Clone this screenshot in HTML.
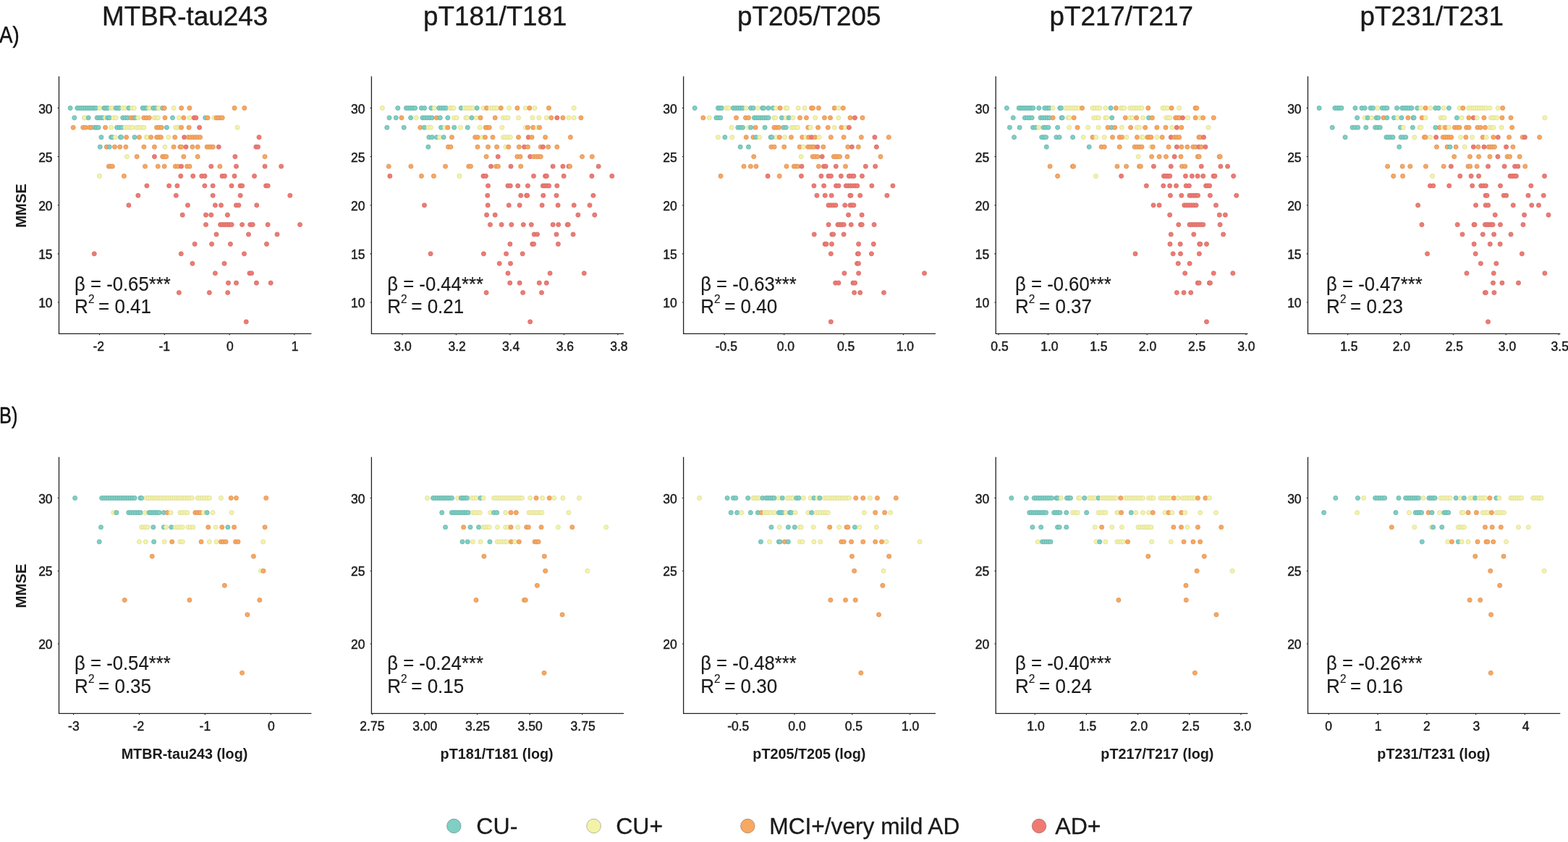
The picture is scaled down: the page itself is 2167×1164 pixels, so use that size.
<!DOCTYPE html><html><head><meta charset="utf-8"><title>MMSE vs tau biomarkers</title><style>html,body{margin:0;padding:0;background:#fff;}svg{display:block;}</style></head><body><svg width="2167" height="1164" viewBox="0 0 2167 1164">
<rect width="2167" height="1164" fill="#fff"/>
<style>.t{fill:#7fcfc4;stroke:#64b1a7;stroke-width:0.8}.y{fill:#f3f3a8;stroke:#dddc9c;stroke-width:0.8}.o{fill:#f8a860;stroke:#dc9054;stroke-width:0.8}.r{fill:#f07a72;stroke:#d06c66;stroke-width:0.8}</style>
<g><circle cx="97.15" cy="149.4" r="3.05" class="t"/><circle cx="106.73" cy="149.4" r="3.05" class="t"/><circle cx="109.62" cy="149.4" r="3.05" class="t"/><circle cx="112.52" cy="149.4" r="3.05" class="t"/><circle cx="115.42" cy="149.4" r="3.05" class="t"/><circle cx="118.31" cy="149.4" r="3.05" class="t"/><circle cx="121.21" cy="149.4" r="3.05" class="t"/><circle cx="124.11" cy="149.4" r="3.05" class="t"/><circle cx="127.01" cy="149.4" r="3.05" class="t"/><circle cx="129.9" cy="149.4" r="3.05" class="t"/><circle cx="132.8" cy="149.4" r="3.05" class="t"/><circle cx="137.93" cy="149.4" r="3.05" class="y"/><circle cx="143.88" cy="149.4" r="3.05" class="t"/><circle cx="146.41" cy="149.4" r="3.05" class="t"/><circle cx="148.95" cy="149.4" r="3.05" class="t"/><circle cx="153.57" cy="149.4" r="3.05" class="y"/><circle cx="155.41" cy="149.4" r="3.05" class="y"/><circle cx="160.03" cy="149.4" r="3.05" class="t"/><circle cx="162.56" cy="149.4" r="3.05" class="t"/><circle cx="165.1" cy="149.4" r="3.05" class="t"/><circle cx="169.72" cy="149.4" r="3.05" class="y"/><circle cx="173.18" cy="149.4" r="3.05" class="y"/><circle cx="177.91" cy="149.4" r="3.05" class="t"/><circle cx="182.64" cy="149.4" r="3.05" class="y"/><circle cx="185.29" cy="149.4" r="3.05" class="y"/><circle cx="197.17" cy="149.4" r="3.05" class="t"/><circle cx="199.71" cy="149.4" r="3.05" class="t"/><circle cx="202.25" cy="149.4" r="3.05" class="t"/><circle cx="206.06" cy="149.4" r="3.05" class="y"/><circle cx="207.1" cy="149.4" r="3.05" class="y"/><circle cx="211.71" cy="149.4" r="3.05" class="t"/><circle cx="215.17" cy="149.4" r="3.05" class="t"/><circle cx="218.98" cy="149.4" r="3.05" class="y"/><circle cx="220.02" cy="149.4" r="3.05" class="y"/><circle cx="224.75" cy="149.4" r="3.05" class="t"/><circle cx="227.17" cy="149.4" r="3.05" class="o"/><circle cx="240.09" cy="149.4" r="3.05" class="y"/><circle cx="250.59" cy="149.4" r="3.05" class="o"/><circle cx="261.9" cy="149.4" r="3.05" class="o"/><circle cx="324.08" cy="149.4" r="3.05" class="o"/><circle cx="337.81" cy="149.4" r="3.05" class="o"/><circle cx="102.8" cy="162.83" r="3.05" class="t"/><circle cx="116.42" cy="162.83" r="3.05" class="y"/><circle cx="117.46" cy="162.83" r="3.05" class="y"/><circle cx="122.19" cy="162.83" r="3.05" class="t"/><circle cx="134.18" cy="162.83" r="3.05" class="t"/><circle cx="136.95" cy="162.83" r="3.05" class="t"/><circle cx="139.72" cy="162.83" r="3.05" class="t"/><circle cx="142.49" cy="162.83" r="3.05" class="t"/><circle cx="145.61" cy="162.83" r="3.05" class="y"/><circle cx="148.72" cy="162.83" r="3.05" class="t"/><circle cx="151.37" cy="162.83" r="3.05" class="t"/><circle cx="156.8" cy="162.83" r="3.05" class="y"/><circle cx="160.26" cy="162.83" r="3.05" class="y"/><circle cx="169.72" cy="162.83" r="3.05" class="t"/><circle cx="173.06" cy="162.83" r="3.05" class="t"/><circle cx="176.41" cy="162.83" r="3.05" class="t"/><circle cx="181.02" cy="162.83" r="3.05" class="o"/><circle cx="184.48" cy="162.83" r="3.05" class="o"/><circle cx="186.79" cy="162.83" r="3.05" class="t"/><circle cx="190.83" cy="162.83" r="3.05" class="y"/><circle cx="198.79" cy="162.83" r="3.05" class="o"/><circle cx="202.25" cy="162.83" r="3.05" class="o"/><circle cx="206.17" cy="162.83" r="3.05" class="o"/><circle cx="213.33" cy="162.83" r="3.05" class="y"/><circle cx="215.86" cy="162.83" r="3.05" class="y"/><circle cx="218.4" cy="162.83" r="3.05" class="y"/><circle cx="227.98" cy="162.83" r="3.05" class="o"/><circle cx="238.48" cy="162.83" r="3.05" class="t"/><circle cx="247.36" cy="162.83" r="3.05" class="y"/><circle cx="253.82" cy="162.83" r="3.05" class="o"/><circle cx="261.9" cy="162.83" r="3.05" class="y"/><circle cx="268.24" cy="162.83" r="3.05" class="r"/><circle cx="270.89" cy="162.83" r="3.05" class="r"/><circle cx="283.7" cy="162.83" r="3.05" class="t"/><circle cx="286.93" cy="162.83" r="3.05" class="o"/><circle cx="295.81" cy="162.83" r="3.05" class="y"/><circle cx="298.93" cy="162.83" r="3.05" class="o"/><circle cx="301.7" cy="162.83" r="3.05" class="o"/><circle cx="304.47" cy="162.83" r="3.05" class="o"/><circle cx="307.23" cy="162.83" r="3.05" class="o"/><circle cx="101.19" cy="176.26" r="3.05" class="o"/><circle cx="114.8" cy="176.26" r="3.05" class="o"/><circle cx="118.26" cy="176.26" r="3.05" class="o"/><circle cx="123.69" cy="176.26" r="3.05" class="o"/><circle cx="126.34" cy="176.26" r="3.05" class="o"/><circle cx="130.95" cy="176.26" r="3.05" class="t"/><circle cx="133.49" cy="176.26" r="3.05" class="t"/><circle cx="136.03" cy="176.26" r="3.05" class="t"/><circle cx="145.61" cy="176.26" r="3.05" class="o"/><circle cx="153.68" cy="176.26" r="3.05" class="y"/><circle cx="161.64" cy="176.26" r="3.05" class="t"/><circle cx="164.99" cy="176.26" r="3.05" class="t"/><circle cx="168.33" cy="176.26" r="3.05" class="t"/><circle cx="172.95" cy="176.26" r="3.05" class="y"/><circle cx="176.25" cy="176.26" r="3.05" class="y"/><circle cx="179.56" cy="176.26" r="3.05" class="y"/><circle cx="182.87" cy="176.26" r="3.05" class="y"/><circle cx="189.1" cy="176.26" r="3.05" class="y"/><circle cx="192.41" cy="176.26" r="3.05" class="y"/><circle cx="195.71" cy="176.26" r="3.05" class="y"/><circle cx="199.02" cy="176.26" r="3.05" class="y"/><circle cx="216.56" cy="176.26" r="3.05" class="o"/><circle cx="219.9" cy="176.26" r="3.05" class="o"/><circle cx="223.25" cy="176.26" r="3.05" class="o"/><circle cx="230.4" cy="176.26" r="3.05" class="t"/><circle cx="242.4" cy="176.26" r="3.05" class="y"/><circle cx="244.94" cy="176.26" r="3.05" class="y"/><circle cx="247.47" cy="176.26" r="3.05" class="y"/><circle cx="250.59" cy="176.26" r="3.05" class="o"/><circle cx="261.09" cy="176.26" r="3.05" class="o"/><circle cx="275.62" cy="176.26" r="3.05" class="r"/><circle cx="328.12" cy="176.26" r="3.05" class="y"/><circle cx="139.95" cy="189.69" r="3.05" class="t"/><circle cx="153.57" cy="189.69" r="3.05" class="t"/><circle cx="155.41" cy="189.69" r="3.05" class="t"/><circle cx="159.33" cy="189.69" r="3.05" class="y"/><circle cx="166.49" cy="189.69" r="3.05" class="t"/><circle cx="167.52" cy="189.69" r="3.05" class="t"/><circle cx="174.68" cy="189.69" r="3.05" class="o"/><circle cx="185.98" cy="189.69" r="3.05" class="t"/><circle cx="192.44" cy="189.69" r="3.05" class="o"/><circle cx="202.02" cy="189.69" r="3.05" class="y"/><circle cx="203.87" cy="189.69" r="3.05" class="y"/><circle cx="208.6" cy="189.69" r="3.05" class="o"/><circle cx="216.56" cy="189.69" r="3.05" class="o"/><circle cx="219.5" cy="189.69" r="3.05" class="o"/><circle cx="222.44" cy="189.69" r="3.05" class="o"/><circle cx="232.82" cy="189.69" r="3.05" class="y"/><circle cx="241.71" cy="189.69" r="3.05" class="o"/><circle cx="254.63" cy="189.69" r="3.05" class="r"/><circle cx="260.16" cy="189.69" r="3.05" class="o"/><circle cx="263.44" cy="189.69" r="3.05" class="o"/><circle cx="266.72" cy="189.69" r="3.05" class="o"/><circle cx="269.99" cy="189.69" r="3.05" class="o"/><circle cx="273.27" cy="189.69" r="3.05" class="o"/><circle cx="276.55" cy="189.69" r="3.05" class="o"/><circle cx="358" cy="189.69" r="3.05" class="r"/><circle cx="138.34" cy="203.12" r="3.05" class="t"/><circle cx="147.22" cy="203.12" r="3.05" class="o"/><circle cx="151.26" cy="203.12" r="3.05" class="t"/><circle cx="158.53" cy="203.12" r="3.05" class="o"/><circle cx="165.79" cy="203.12" r="3.05" class="o"/><circle cx="173.87" cy="203.12" r="3.05" class="o"/><circle cx="198.9" cy="203.12" r="3.05" class="o"/><circle cx="213.44" cy="203.12" r="3.05" class="o"/><circle cx="227.98" cy="203.12" r="3.05" class="y"/><circle cx="240.09" cy="203.12" r="3.05" class="o"/><circle cx="248.86" cy="203.12" r="3.05" class="o"/><circle cx="250.7" cy="203.12" r="3.05" class="o"/><circle cx="257.05" cy="203.12" r="3.05" class="r"/><circle cx="265.93" cy="203.12" r="3.05" class="o"/><circle cx="273.2" cy="203.12" r="3.05" class="o"/><circle cx="286.01" cy="203.12" r="3.05" class="o"/><circle cx="288.78" cy="203.12" r="3.05" class="o"/><circle cx="291.54" cy="203.12" r="3.05" class="o"/><circle cx="294.31" cy="203.12" r="3.05" class="o"/><circle cx="302.27" cy="203.12" r="3.05" class="r"/><circle cx="353.84" cy="203.12" r="3.05" class="r"/><circle cx="356.5" cy="203.12" r="3.05" class="r"/><circle cx="175.49" cy="216.55" r="3.05" class="y"/><circle cx="189.21" cy="216.55" r="3.05" class="o"/><circle cx="213.44" cy="216.55" r="3.05" class="r"/><circle cx="224.63" cy="216.55" r="3.05" class="o"/><circle cx="227.17" cy="216.55" r="3.05" class="o"/><circle cx="229.71" cy="216.55" r="3.05" class="o"/><circle cx="253.82" cy="216.55" r="3.05" class="o"/><circle cx="273.2" cy="216.55" r="3.05" class="o"/><circle cx="324.89" cy="216.55" r="3.05" class="r"/><circle cx="366.07" cy="216.55" r="3.05" class="o"/><circle cx="150.34" cy="229.98" r="3.05" class="o"/><circle cx="152.87" cy="229.98" r="3.05" class="o"/><circle cx="155.41" cy="229.98" r="3.05" class="o"/><circle cx="200.52" cy="229.98" r="3.05" class="o"/><circle cx="218.29" cy="229.98" r="3.05" class="o"/><circle cx="227.17" cy="229.98" r="3.05" class="o"/><circle cx="242.4" cy="229.98" r="3.05" class="o"/><circle cx="245.86" cy="229.98" r="3.05" class="o"/><circle cx="250.59" cy="229.98" r="3.05" class="r"/><circle cx="258.55" cy="229.98" r="3.05" class="o"/><circle cx="262.01" cy="229.98" r="3.05" class="o"/><circle cx="291.78" cy="229.98" r="3.05" class="r"/><circle cx="303.89" cy="229.98" r="3.05" class="o"/><circle cx="326.5" cy="229.98" r="3.05" class="r"/><circle cx="366.07" cy="229.98" r="3.05" class="r"/><circle cx="388.68" cy="229.98" r="3.05" class="r"/><circle cx="137.53" cy="243.41" r="3.05" class="y"/><circle cx="171.45" cy="243.41" r="3.05" class="o"/><circle cx="249.78" cy="243.41" r="3.05" class="r"/><circle cx="266.74" cy="243.41" r="3.05" class="r"/><circle cx="278.74" cy="243.41" r="3.05" class="r"/><circle cx="283.01" cy="243.41" r="3.05" class="r"/><circle cx="307" cy="243.41" r="3.05" class="r"/><circle cx="310.46" cy="243.41" r="3.05" class="r"/><circle cx="324.08" cy="243.41" r="3.05" class="r"/><circle cx="351.54" cy="243.41" r="3.05" class="r"/><circle cx="202.94" cy="256.84" r="3.05" class="r"/><circle cx="233.63" cy="256.84" r="3.05" class="r"/><circle cx="244.94" cy="256.84" r="3.05" class="r"/><circle cx="282.89" cy="256.84" r="3.05" class="r"/><circle cx="294.2" cy="256.84" r="3.05" class="r"/><circle cx="320.04" cy="256.84" r="3.05" class="r"/><circle cx="332.04" cy="256.84" r="3.05" class="r"/><circle cx="334.69" cy="256.84" r="3.05" class="r"/><circle cx="367.57" cy="256.84" r="3.05" class="r"/><circle cx="370.22" cy="256.84" r="3.05" class="r"/><circle cx="190.83" cy="270.27" r="3.05" class="r"/><circle cx="243.32" cy="270.27" r="3.05" class="r"/><circle cx="294.2" cy="270.27" r="3.05" class="r"/><circle cx="332.15" cy="270.27" r="3.05" class="r"/><circle cx="400.8" cy="270.27" r="3.05" class="r"/><circle cx="177.91" cy="283.7" r="3.05" class="r"/><circle cx="259.47" cy="283.7" r="3.05" class="r"/><circle cx="297.43" cy="283.7" r="3.05" class="r"/><circle cx="305.5" cy="283.7" r="3.05" class="r"/><circle cx="326.39" cy="283.7" r="3.05" class="r"/><circle cx="329.85" cy="283.7" r="3.05" class="r"/><circle cx="354.77" cy="283.7" r="3.05" class="r"/><circle cx="252.2" cy="297.13" r="3.05" class="r"/><circle cx="284.51" cy="297.13" r="3.05" class="r"/><circle cx="291.78" cy="297.13" r="3.05" class="r"/><circle cx="314.39" cy="297.13" r="3.05" class="r"/><circle cx="284.51" cy="310.56" r="3.05" class="r"/><circle cx="304.58" cy="310.56" r="3.05" class="r"/><circle cx="307.7" cy="310.56" r="3.05" class="r"/><circle cx="310.81" cy="310.56" r="3.05" class="r"/><circle cx="313.93" cy="310.56" r="3.05" class="r"/><circle cx="317.04" cy="310.56" r="3.05" class="r"/><circle cx="320.16" cy="310.56" r="3.05" class="r"/><circle cx="334.58" cy="310.56" r="3.05" class="r"/><circle cx="345.77" cy="310.56" r="3.05" class="r"/><circle cx="349.23" cy="310.56" r="3.05" class="r"/><circle cx="370.11" cy="310.56" r="3.05" class="r"/><circle cx="414.53" cy="310.56" r="3.05" class="r"/><circle cx="299.04" cy="323.99" r="3.05" class="r"/><circle cx="343.46" cy="323.99" r="3.05" class="r"/><circle cx="383.03" cy="323.99" r="3.05" class="r"/><circle cx="269.16" cy="337.42" r="3.05" class="r"/><circle cx="292.58" cy="337.42" r="3.05" class="r"/><circle cx="318.43" cy="337.42" r="3.05" class="r"/><circle cx="368.49" cy="337.42" r="3.05" class="r"/><circle cx="130.26" cy="350.85" r="3.05" class="r"/><circle cx="250.27" cy="350.85" r="3.05" class="r"/><circle cx="337.48" cy="350.85" r="3.05" class="r"/><circle cx="265.93" cy="364.28" r="3.05" class="r"/><circle cx="310.03" cy="364.28" r="3.05" class="r"/><circle cx="297.43" cy="377.71" r="3.05" class="r"/><circle cx="344.96" cy="377.71" r="3.05" class="r"/><circle cx="347.61" cy="377.71" r="3.05" class="r"/><circle cx="315.52" cy="391.14" r="3.05" class="r"/><circle cx="326.5" cy="391.14" r="3.05" class="r"/><circle cx="354.44" cy="391.14" r="3.05" class="r"/><circle cx="374.15" cy="391.14" r="3.05" class="r"/><circle cx="247.36" cy="404.57" r="3.05" class="r"/><circle cx="289.35" cy="404.57" r="3.05" class="r"/><circle cx="314.71" cy="404.57" r="3.05" class="r"/><circle cx="340.23" cy="444.86" r="3.05" class="r"/></g>
<path d="M81.5,105.5V461.4H430.4" fill="none" stroke="#222" stroke-width="1.3"/>
<path d="M137.56,461.4v1.8M227.33,461.4v1.8M317.1,461.4v1.8M406.87,461.4v1.8M81.5,149.4h-1.8M81.5,216.55h-1.8M81.5,283.7h-1.8M81.5,350.85h-1.8M81.5,418h-1.8" stroke="#222" stroke-width="1.1"/>
<g font-family="Liberation Sans, Arial, Helvetica, sans-serif" fill="#1a1a1a" stroke="#1a1a1a" stroke-width="0.45">
<text id="xtA1_-2" x="136.16" y="484.8" font-size="17.5" text-anchor="middle">-2</text>
<text id="xtA1_-1" x="227.33" y="484.8" font-size="17.5" text-anchor="middle">-1</text>
<text id="xtA1_0" x="317.9" y="484.8" font-size="17.5" text-anchor="middle">0</text>
<text id="xtA1_1" x="407.67" y="484.8" font-size="17.5" text-anchor="middle">1</text>
<text id="ytA1_30" x="72.6" y="156.6" font-size="17.5" text-anchor="end">30</text>
<text id="ytA1_25" x="72.6" y="223.75" font-size="17.5" text-anchor="end">25</text>
<text id="ytA1_20" x="72.6" y="290.9" font-size="17.5" text-anchor="end">20</text>
<text id="ytA1_15" x="72.6" y="358.05" font-size="17.5" text-anchor="end">15</text>
<text id="ytA1_10" x="72.6" y="425.2" font-size="17.5" text-anchor="end">10</text>
</g>
<g font-family="Liberation Sans, Arial, Helvetica, sans-serif" fill="#1a1a1a" stroke="#1a1a1a" stroke-width="0.15">
<text id="sbA1" x="103.1" y="401.6" font-size="26" textLength="132.6" lengthAdjust="spacingAndGlyphs" transform="matrix(1 0 0 1.075 0 -30.12)">β = -0.65***</text>
<text id="srA1" x="103.1" y="433.1" font-size="26" transform="matrix(1 0 0 1.075 0 -32.48)">R<tspan font-size="15.34" dy="-12.74">2</tspan><tspan dy="12.74" dx="-1.6"> = 0.41</tspan></text>
</g>
<g><circle cx="103.61" cy="688.5" r="3.05" class="t"/><circle cx="140.64" cy="688.5" r="3.05" class="t"/><circle cx="143.68" cy="688.5" r="3.05" class="t"/><circle cx="146.71" cy="688.5" r="3.05" class="t"/><circle cx="149.74" cy="688.5" r="3.05" class="t"/><circle cx="152.77" cy="688.5" r="3.05" class="t"/><circle cx="155.8" cy="688.5" r="3.05" class="t"/><circle cx="158.83" cy="688.5" r="3.05" class="t"/><circle cx="161.86" cy="688.5" r="3.05" class="t"/><circle cx="164.89" cy="688.5" r="3.05" class="t"/><circle cx="167.92" cy="688.5" r="3.05" class="t"/><circle cx="170.95" cy="688.5" r="3.05" class="t"/><circle cx="173.98" cy="688.5" r="3.05" class="t"/><circle cx="177.01" cy="688.5" r="3.05" class="t"/><circle cx="180.04" cy="688.5" r="3.05" class="t"/><circle cx="183.07" cy="688.5" r="3.05" class="t"/><circle cx="186.1" cy="688.5" r="3.05" class="t"/><circle cx="193.94" cy="688.5" r="3.05" class="t"/><circle cx="195.79" cy="688.5" r="3.05" class="t"/><circle cx="202.02" cy="688.5" r="3.05" class="y"/><circle cx="205.03" cy="688.5" r="3.05" class="y"/><circle cx="208.04" cy="688.5" r="3.05" class="y"/><circle cx="211.05" cy="688.5" r="3.05" class="y"/><circle cx="214.06" cy="688.5" r="3.05" class="y"/><circle cx="217.07" cy="688.5" r="3.05" class="y"/><circle cx="220.08" cy="688.5" r="3.05" class="y"/><circle cx="223.09" cy="688.5" r="3.05" class="y"/><circle cx="226.1" cy="688.5" r="3.05" class="y"/><circle cx="229.11" cy="688.5" r="3.05" class="y"/><circle cx="232.13" cy="688.5" r="3.05" class="y"/><circle cx="235.14" cy="688.5" r="3.05" class="y"/><circle cx="238.15" cy="688.5" r="3.05" class="y"/><circle cx="241.16" cy="688.5" r="3.05" class="y"/><circle cx="244.17" cy="688.5" r="3.05" class="y"/><circle cx="247.18" cy="688.5" r="3.05" class="y"/><circle cx="250.19" cy="688.5" r="3.05" class="y"/><circle cx="253.2" cy="688.5" r="3.05" class="y"/><circle cx="256.21" cy="688.5" r="3.05" class="y"/><circle cx="259.22" cy="688.5" r="3.05" class="y"/><circle cx="262.23" cy="688.5" r="3.05" class="y"/><circle cx="265.24" cy="688.5" r="3.05" class="y"/><circle cx="273.09" cy="688.5" r="3.05" class="y"/><circle cx="276.36" cy="688.5" r="3.05" class="y"/><circle cx="279.64" cy="688.5" r="3.05" class="y"/><circle cx="282.92" cy="688.5" r="3.05" class="y"/><circle cx="286.19" cy="688.5" r="3.05" class="y"/><circle cx="289.47" cy="688.5" r="3.05" class="y"/><circle cx="305.5" cy="688.5" r="3.05" class="y"/><circle cx="319.23" cy="688.5" r="3.05" class="o"/><circle cx="326.5" cy="688.5" r="3.05" class="o"/><circle cx="367.69" cy="688.5" r="3.05" class="o"/><circle cx="156.91" cy="708.65" r="3.05" class="y"/><circle cx="160.95" cy="708.65" r="3.05" class="t"/><circle cx="177.79" cy="708.65" r="3.05" class="t"/><circle cx="181.07" cy="708.65" r="3.05" class="t"/><circle cx="184.35" cy="708.65" r="3.05" class="t"/><circle cx="187.62" cy="708.65" r="3.05" class="t"/><circle cx="190.9" cy="708.65" r="3.05" class="t"/><circle cx="194.17" cy="708.65" r="3.05" class="t"/><circle cx="200.52" cy="708.65" r="3.05" class="y"/><circle cx="206.06" cy="708.65" r="3.05" class="t"/><circle cx="208.85" cy="708.65" r="3.05" class="t"/><circle cx="211.64" cy="708.65" r="3.05" class="t"/><circle cx="214.43" cy="708.65" r="3.05" class="t"/><circle cx="217.23" cy="708.65" r="3.05" class="t"/><circle cx="220.02" cy="708.65" r="3.05" class="t"/><circle cx="226.36" cy="708.65" r="3.05" class="t"/><circle cx="231.21" cy="708.65" r="3.05" class="o"/><circle cx="236.05" cy="708.65" r="3.05" class="y"/><circle cx="248.86" cy="708.65" r="3.05" class="y"/><circle cx="252.17" cy="708.65" r="3.05" class="y"/><circle cx="255.47" cy="708.65" r="3.05" class="y"/><circle cx="258.78" cy="708.65" r="3.05" class="y"/><circle cx="269.86" cy="708.65" r="3.05" class="o"/><circle cx="273.2" cy="708.65" r="3.05" class="o"/><circle cx="276.55" cy="708.65" r="3.05" class="o"/><circle cx="281.28" cy="708.65" r="3.05" class="y"/><circle cx="286.12" cy="708.65" r="3.05" class="t"/><circle cx="294.2" cy="708.65" r="3.05" class="y"/><circle cx="320.04" cy="708.65" r="3.05" class="y"/><circle cx="139.47" cy="728.8" r="3.05" class="t"/><circle cx="195.56" cy="728.8" r="3.05" class="y"/><circle cx="198.33" cy="728.8" r="3.05" class="y"/><circle cx="201.1" cy="728.8" r="3.05" class="y"/><circle cx="203.87" cy="728.8" r="3.05" class="y"/><circle cx="211.83" cy="728.8" r="3.05" class="t"/><circle cx="226.36" cy="728.8" r="3.05" class="t"/><circle cx="229.59" cy="728.8" r="3.05" class="y"/><circle cx="236.86" cy="728.8" r="3.05" class="t"/><circle cx="242.4" cy="728.8" r="3.05" class="y"/><circle cx="245.71" cy="728.8" r="3.05" class="y"/><circle cx="249.01" cy="728.8" r="3.05" class="y"/><circle cx="252.32" cy="728.8" r="3.05" class="y"/><circle cx="260.16" cy="728.8" r="3.05" class="y"/><circle cx="263.51" cy="728.8" r="3.05" class="y"/><circle cx="266.86" cy="728.8" r="3.05" class="y"/><circle cx="287.74" cy="728.8" r="3.05" class="o"/><circle cx="298.24" cy="728.8" r="3.05" class="y"/><circle cx="306.8" cy="728.8" r="3.05" class="o"/><circle cx="314.87" cy="728.8" r="3.05" class="t"/><circle cx="323.59" cy="728.8" r="3.05" class="o"/><circle cx="366.07" cy="728.8" r="3.05" class="o"/><circle cx="137.21" cy="748.95" r="3.05" class="t"/><circle cx="192.44" cy="748.95" r="3.05" class="y"/><circle cx="201.33" cy="748.95" r="3.05" class="y"/><circle cx="212.63" cy="748.95" r="3.05" class="t"/><circle cx="227.17" cy="748.95" r="3.05" class="y"/><circle cx="237.67" cy="748.95" r="3.05" class="o"/><circle cx="248.86" cy="748.95" r="3.05" class="y"/><circle cx="252.32" cy="748.95" r="3.05" class="y"/><circle cx="278.05" cy="748.95" r="3.05" class="o"/><circle cx="289.35" cy="748.95" r="3.05" class="y"/><circle cx="299.04" cy="748.95" r="3.05" class="y"/><circle cx="305.39" cy="748.95" r="3.05" class="o"/><circle cx="308.73" cy="748.95" r="3.05" class="o"/><circle cx="312.08" cy="748.95" r="3.05" class="o"/><circle cx="325.58" cy="748.95" r="3.05" class="o"/><circle cx="329.04" cy="748.95" r="3.05" class="o"/><circle cx="363.65" cy="748.95" r="3.05" class="y"/><circle cx="210.21" cy="769.1" r="3.05" class="o"/><circle cx="350.4" cy="769.1" r="3.05" class="o"/><circle cx="360.42" cy="789.25" r="3.05" class="y"/><circle cx="363.97" cy="789.25" r="3.05" class="o"/><circle cx="310.35" cy="809.4" r="3.05" class="o"/><circle cx="172.26" cy="829.55" r="3.05" class="o"/><circle cx="261.9" cy="829.55" r="3.05" class="o"/><circle cx="358.8" cy="829.55" r="3.05" class="o"/><circle cx="341.84" cy="849.7" r="3.05" class="o"/><circle cx="334.58" cy="930.3" r="3.05" class="o"/></g>
<path d="M81.5,631.7V986.4H430.4" fill="none" stroke="#222" stroke-width="1.3"/>
<path d="M101.6,986.4v1.8M192.5,986.4v1.8M283.4,986.4v1.8M374.3,986.4v1.8M81.5,688.5h-1.8M81.5,789.25h-1.8M81.5,890h-1.8" stroke="#222" stroke-width="1.1"/>
<g font-family="Liberation Sans, Arial, Helvetica, sans-serif" fill="#1a1a1a" stroke="#1a1a1a" stroke-width="0.45">
<text id="xtB1_-3" x="101.9" y="1009.8" font-size="17.5" text-anchor="middle">-3</text>
<text id="xtB1_-2" x="191.5" y="1009.8" font-size="17.5" text-anchor="middle">-2</text>
<text id="xtB1_-1" x="283.4" y="1009.8" font-size="17.5" text-anchor="middle">-1</text>
<text id="xtB1_0" x="374.9" y="1009.8" font-size="17.5" text-anchor="middle">0</text>
<text id="ytB1_30" x="72.6" y="695.7" font-size="17.5" text-anchor="end">30</text>
<text id="ytB1_25" x="72.6" y="796.45" font-size="17.5" text-anchor="end">25</text>
<text id="ytB1_20" x="72.6" y="897.2" font-size="17.5" text-anchor="end">20</text>
</g>
<g font-family="Liberation Sans, Arial, Helvetica, sans-serif" fill="#1a1a1a" stroke="#1a1a1a" stroke-width="0.15">
<text id="sbB1" x="103.1" y="926.3" font-size="26" textLength="132.6" lengthAdjust="spacingAndGlyphs" transform="matrix(1 0 0 1.075 0 -69.47)">β = -0.54***</text>
<text id="srB1" x="103.1" y="957.8" font-size="26" transform="matrix(1 0 0 1.075 0 -71.83)">R<tspan font-size="15.34" dy="-12.74">2</tspan><tspan dy="12.74" dx="-1.6"> = 0.35</tspan></text>
</g>
<g font-family="Liberation Sans, Arial, Helvetica, sans-serif" fill="#1a1a1a" stroke="#1a1a1a" stroke-width="0.4">
<text id="title1" x="255.6" y="35.3" font-size="36.8" text-anchor="middle">MTBR-tau243</text>
</g>
<g font-family="Liberation Sans, Arial, Helvetica, sans-serif" fill="#1a1a1a">
<text id="xlab1" x="255" y="1048.6" font-size="19.8" text-anchor="middle" font-weight="bold">MTBR-tau243 (log)</text>
</g>
<g><circle cx="528.34" cy="149.4" r="3.05" class="y"/><circle cx="549.83" cy="149.4" r="3.05" class="t"/><circle cx="561.34" cy="149.4" r="3.05" class="t"/><circle cx="564.42" cy="149.4" r="3.05" class="t"/><circle cx="567.51" cy="149.4" r="3.05" class="t"/><circle cx="570.6" cy="149.4" r="3.05" class="t"/><circle cx="573.68" cy="149.4" r="3.05" class="t"/><circle cx="582.34" cy="149.4" r="3.05" class="t"/><circle cx="586.6" cy="149.4" r="3.05" class="t"/><circle cx="595.78" cy="149.4" r="3.05" class="t"/><circle cx="600.22" cy="149.4" r="3.05" class="y"/><circle cx="606.56" cy="149.4" r="3.05" class="t"/><circle cx="609.87" cy="149.4" r="3.05" class="t"/><circle cx="613.18" cy="149.4" r="3.05" class="t"/><circle cx="616.48" cy="149.4" r="3.05" class="t"/><circle cx="621.91" cy="149.4" r="3.05" class="y"/><circle cx="624.44" cy="149.4" r="3.05" class="y"/><circle cx="626.98" cy="149.4" r="3.05" class="y"/><circle cx="637.37" cy="149.4" r="3.05" class="t"/><circle cx="642.1" cy="149.4" r="3.05" class="y"/><circle cx="644.98" cy="149.4" r="3.05" class="y"/><circle cx="647.86" cy="149.4" r="3.05" class="y"/><circle cx="650.75" cy="149.4" r="3.05" class="y"/><circle cx="653.63" cy="149.4" r="3.05" class="y"/><circle cx="659.17" cy="149.4" r="3.05" class="t"/><circle cx="668.05" cy="149.4" r="3.05" class="y"/><circle cx="672.58" cy="149.4" r="3.05" class="o"/><circle cx="677.63" cy="149.4" r="3.05" class="y"/><circle cx="680.67" cy="149.4" r="3.05" class="y"/><circle cx="683.7" cy="149.4" r="3.05" class="y"/><circle cx="686.74" cy="149.4" r="3.05" class="y"/><circle cx="692.28" cy="149.4" r="3.05" class="o"/><circle cx="703.59" cy="149.4" r="3.05" class="y"/><circle cx="714.89" cy="149.4" r="3.05" class="o"/><circle cx="726.2" cy="149.4" r="3.05" class="y"/><circle cx="731.85" cy="149.4" r="3.05" class="o"/><circle cx="739.12" cy="149.4" r="3.05" class="y"/><circle cx="758.5" cy="149.4" r="3.05" class="o"/><circle cx="793.23" cy="149.4" r="3.05" class="y"/><circle cx="538.03" cy="162.83" r="3.05" class="t"/><circle cx="547.24" cy="162.83" r="3.05" class="t"/><circle cx="554.99" cy="162.83" r="3.05" class="o"/><circle cx="567.59" cy="162.83" r="3.05" class="t"/><circle cx="575.18" cy="162.83" r="3.05" class="y"/><circle cx="583.95" cy="162.83" r="3.05" class="t"/><circle cx="587.24" cy="162.83" r="3.05" class="t"/><circle cx="590.53" cy="162.83" r="3.05" class="t"/><circle cx="593.81" cy="162.83" r="3.05" class="t"/><circle cx="597.1" cy="162.83" r="3.05" class="t"/><circle cx="603.45" cy="162.83" r="3.05" class="o"/><circle cx="608.29" cy="162.83" r="3.05" class="t"/><circle cx="618.79" cy="162.83" r="3.05" class="t"/><circle cx="627.56" cy="162.83" r="3.05" class="y"/><circle cx="631.02" cy="162.83" r="3.05" class="y"/><circle cx="643.71" cy="162.83" r="3.05" class="y"/><circle cx="645.56" cy="162.83" r="3.05" class="y"/><circle cx="651.9" cy="162.83" r="3.05" class="t"/><circle cx="658.36" cy="162.83" r="3.05" class="y"/><circle cx="664.02" cy="162.83" r="3.05" class="o"/><circle cx="684.2" cy="162.83" r="3.05" class="o"/><circle cx="695.4" cy="162.83" r="3.05" class="y"/><circle cx="698.74" cy="162.83" r="3.05" class="y"/><circle cx="702.09" cy="162.83" r="3.05" class="y"/><circle cx="716.51" cy="162.83" r="3.05" class="y"/><circle cx="735.89" cy="162.83" r="3.05" class="y"/><circle cx="744.77" cy="162.83" r="3.05" class="y"/><circle cx="755.27" cy="162.83" r="3.05" class="y"/><circle cx="761.73" cy="162.83" r="3.05" class="o"/><circle cx="769.81" cy="162.83" r="3.05" class="r"/><circle cx="777.88" cy="162.83" r="3.05" class="o"/><circle cx="785.96" cy="162.83" r="3.05" class="y"/><circle cx="793.23" cy="162.83" r="3.05" class="y"/><circle cx="802.92" cy="162.83" r="3.05" class="o"/><circle cx="534.8" cy="176.26" r="3.05" class="t"/><circle cx="558.22" cy="176.26" r="3.05" class="t"/><circle cx="580.84" cy="176.26" r="3.05" class="o"/><circle cx="586.49" cy="176.26" r="3.05" class="t"/><circle cx="592.14" cy="176.26" r="3.05" class="y"/><circle cx="595.37" cy="176.26" r="3.05" class="y"/><circle cx="609.59" cy="176.26" r="3.05" class="t"/><circle cx="614.75" cy="176.26" r="3.05" class="y"/><circle cx="618.79" cy="176.26" r="3.05" class="o"/><circle cx="627.67" cy="176.26" r="3.05" class="t"/><circle cx="636.56" cy="176.26" r="3.05" class="y"/><circle cx="646.25" cy="176.26" r="3.05" class="t"/><circle cx="663.21" cy="176.26" r="3.05" class="y"/><circle cx="671.17" cy="176.26" r="3.05" class="o"/><circle cx="673.71" cy="176.26" r="3.05" class="o"/><circle cx="676.24" cy="176.26" r="3.05" class="o"/><circle cx="693.9" cy="176.26" r="3.05" class="y"/><circle cx="726.2" cy="176.26" r="3.05" class="y"/><circle cx="729.43" cy="176.26" r="3.05" class="o"/><circle cx="736.7" cy="176.26" r="3.05" class="o"/><circle cx="742.35" cy="176.26" r="3.05" class="y"/><circle cx="745.58" cy="176.26" r="3.05" class="o"/><circle cx="592.83" cy="189.69" r="3.05" class="t"/><circle cx="597.1" cy="189.69" r="3.05" class="t"/><circle cx="603.45" cy="189.69" r="3.05" class="t"/><circle cx="607.49" cy="189.69" r="3.05" class="y"/><circle cx="613.14" cy="189.69" r="3.05" class="t"/><circle cx="624.44" cy="189.69" r="3.05" class="o"/><circle cx="656.63" cy="189.69" r="3.05" class="o"/><circle cx="660.09" cy="189.69" r="3.05" class="o"/><circle cx="666.44" cy="189.69" r="3.05" class="y"/><circle cx="670.48" cy="189.69" r="3.05" class="o"/><circle cx="680.97" cy="189.69" r="3.05" class="o"/><circle cx="695.4" cy="189.69" r="3.05" class="y"/><circle cx="698.7" cy="189.69" r="3.05" class="y"/><circle cx="702.01" cy="189.69" r="3.05" class="y"/><circle cx="705.32" cy="189.69" r="3.05" class="y"/><circle cx="716.51" cy="189.69" r="3.05" class="o"/><circle cx="730.24" cy="189.69" r="3.05" class="r"/><circle cx="735.08" cy="189.69" r="3.05" class="o"/><circle cx="753.66" cy="189.69" r="3.05" class="o"/><circle cx="788.38" cy="189.69" r="3.05" class="o"/><circle cx="591.82" cy="203.12" r="3.05" class="t"/><circle cx="619.48" cy="203.12" r="3.05" class="o"/><circle cx="622.94" cy="203.12" r="3.05" class="o"/><circle cx="659.98" cy="203.12" r="3.05" class="o"/><circle cx="674.51" cy="203.12" r="3.05" class="o"/><circle cx="686.63" cy="203.12" r="3.05" class="o"/><circle cx="698.74" cy="203.12" r="3.05" class="y"/><circle cx="702.78" cy="203.12" r="3.05" class="o"/><circle cx="717.31" cy="203.12" r="3.05" class="o"/><circle cx="724.58" cy="203.12" r="3.05" class="r"/><circle cx="729.43" cy="203.12" r="3.05" class="o"/><circle cx="747.19" cy="203.12" r="3.05" class="o"/><circle cx="750.43" cy="203.12" r="3.05" class="r"/><circle cx="757.69" cy="203.12" r="3.05" class="o"/><circle cx="769.81" cy="203.12" r="3.05" class="o"/><circle cx="672.09" cy="216.55" r="3.05" class="o"/><circle cx="688.24" cy="216.55" r="3.05" class="r"/><circle cx="714.78" cy="216.55" r="3.05" class="o"/><circle cx="719.04" cy="216.55" r="3.05" class="o"/><circle cx="732.66" cy="216.55" r="3.05" class="r"/><circle cx="737.39" cy="216.55" r="3.05" class="o"/><circle cx="740.7" cy="216.55" r="3.05" class="o"/><circle cx="744" cy="216.55" r="3.05" class="o"/><circle cx="747.31" cy="216.55" r="3.05" class="o"/><circle cx="804.53" cy="216.55" r="3.05" class="o"/><circle cx="818.26" cy="216.55" r="3.05" class="o"/><circle cx="537.23" cy="229.98" r="3.05" class="o"/><circle cx="567.91" cy="229.98" r="3.05" class="o"/><circle cx="615.56" cy="229.98" r="3.05" class="o"/><circle cx="647.75" cy="229.98" r="3.05" class="o"/><circle cx="650.4" cy="229.98" r="3.05" class="o"/><circle cx="678.55" cy="229.98" r="3.05" class="r"/><circle cx="685.7" cy="229.98" r="3.05" class="o"/><circle cx="688.36" cy="229.98" r="3.05" class="o"/><circle cx="706.01" cy="229.98" r="3.05" class="r"/><circle cx="719.74" cy="229.98" r="3.05" class="o"/><circle cx="764.15" cy="229.98" r="3.05" class="r"/><circle cx="777.88" cy="229.98" r="3.05" class="r"/><circle cx="785.96" cy="229.98" r="3.05" class="r"/><circle cx="787.57" cy="229.98" r="3.05" class="o"/><circle cx="827.14" cy="229.98" r="3.05" class="r"/><circle cx="538.84" cy="243.41" r="3.05" class="r"/><circle cx="582.45" cy="243.41" r="3.05" class="o"/><circle cx="599.41" cy="243.41" r="3.05" class="o"/><circle cx="634.94" cy="243.41" r="3.05" class="y"/><circle cx="667.94" cy="243.41" r="3.05" class="r"/><circle cx="671.4" cy="243.41" r="3.05" class="r"/><circle cx="737.5" cy="243.41" r="3.05" class="r"/><circle cx="753.54" cy="243.41" r="3.05" class="r"/><circle cx="755.39" cy="243.41" r="3.05" class="r"/><circle cx="779.17" cy="243.41" r="3.05" class="r"/><circle cx="817.94" cy="243.41" r="3.05" class="r"/><circle cx="845.72" cy="243.41" r="3.05" class="r"/><circle cx="674.51" cy="256.84" r="3.05" class="r"/><circle cx="701.86" cy="256.84" r="3.05" class="r"/><circle cx="705.32" cy="256.84" r="3.05" class="r"/><circle cx="715.7" cy="256.84" r="3.05" class="r"/><circle cx="729.43" cy="256.84" r="3.05" class="r"/><circle cx="750.31" cy="256.84" r="3.05" class="r"/><circle cx="753.08" cy="256.84" r="3.05" class="r"/><circle cx="755.85" cy="256.84" r="3.05" class="r"/><circle cx="758.62" cy="256.84" r="3.05" class="r"/><circle cx="769.81" cy="256.84" r="3.05" class="r"/><circle cx="673.71" cy="270.27" r="3.05" class="r"/><circle cx="719.74" cy="270.27" r="3.05" class="r"/><circle cx="727.7" cy="270.27" r="3.05" class="r"/><circle cx="728.74" cy="270.27" r="3.05" class="r"/><circle cx="750.75" cy="270.27" r="3.05" class="r"/><circle cx="769" cy="270.27" r="3.05" class="r"/><circle cx="819.88" cy="270.27" r="3.05" class="r"/><circle cx="586.49" cy="283.7" r="3.05" class="r"/><circle cx="674.19" cy="283.7" r="3.05" class="r"/><circle cx="703.26" cy="283.7" r="3.05" class="r"/><circle cx="718.12" cy="283.7" r="3.05" class="r"/><circle cx="749.13" cy="283.7" r="3.05" class="r"/><circle cx="771.1" cy="283.7" r="3.05" class="r"/><circle cx="793.23" cy="283.7" r="3.05" class="r"/><circle cx="815.03" cy="283.7" r="3.05" class="r"/><circle cx="672.58" cy="297.13" r="3.05" class="r"/><circle cx="684.2" cy="297.13" r="3.05" class="r"/><circle cx="798.88" cy="297.13" r="3.05" class="r"/><circle cx="821.81" cy="297.13" r="3.05" class="r"/><circle cx="677.42" cy="310.56" r="3.05" class="r"/><circle cx="693.09" cy="310.56" r="3.05" class="r"/><circle cx="706.82" cy="310.56" r="3.05" class="r"/><circle cx="723.29" cy="310.56" r="3.05" class="r"/><circle cx="734.27" cy="310.56" r="3.05" class="r"/><circle cx="764.15" cy="310.56" r="3.05" class="r"/><circle cx="771.74" cy="310.56" r="3.05" class="r"/><circle cx="784.23" cy="310.56" r="3.05" class="r"/><circle cx="785.27" cy="310.56" r="3.05" class="r"/><circle cx="738.2" cy="323.99" r="3.05" class="r"/><circle cx="742.46" cy="323.99" r="3.05" class="r"/><circle cx="769" cy="323.99" r="3.05" class="r"/><circle cx="792.1" cy="323.99" r="3.05" class="r"/><circle cx="704.88" cy="337.42" r="3.05" class="r"/><circle cx="735.77" cy="337.42" r="3.05" class="r"/><circle cx="737.62" cy="337.42" r="3.05" class="r"/><circle cx="771.42" cy="337.42" r="3.05" class="r"/><circle cx="595.05" cy="350.85" r="3.05" class="r"/><circle cx="668.38" cy="350.85" r="3.05" class="r"/><circle cx="699.55" cy="350.85" r="3.05" class="r"/><circle cx="722.16" cy="350.85" r="3.05" class="r"/><circle cx="690.18" cy="364.28" r="3.05" class="r"/><circle cx="705.52" cy="364.28" r="3.05" class="r"/><circle cx="701.97" cy="377.71" r="3.05" class="r"/><circle cx="760.12" cy="377.71" r="3.05" class="r"/><circle cx="807.28" cy="377.71" r="3.05" class="r"/><circle cx="704.72" cy="391.14" r="3.05" class="r"/><circle cx="718.12" cy="391.14" r="3.05" class="r"/><circle cx="745.26" cy="391.14" r="3.05" class="r"/><circle cx="755.27" cy="391.14" r="3.05" class="r"/><circle cx="672.09" cy="404.57" r="3.05" class="r"/><circle cx="722.64" cy="404.57" r="3.05" class="r"/><circle cx="748.49" cy="404.57" r="3.05" class="r"/><circle cx="732.66" cy="444.86" r="3.05" class="r"/></g>
<path d="M513.4,105.5V461.4H862.0" fill="none" stroke="#222" stroke-width="1.3"/>
<path d="M555.9,461.4v1.8M630.38,461.4v1.8M704.86,461.4v1.8M779.34,461.4v1.8M853.82,461.4v1.8M513.4,149.4h-1.8M513.4,216.55h-1.8M513.4,283.7h-1.8M513.4,350.85h-1.8M513.4,418h-1.8" stroke="#222" stroke-width="1.1"/>
<g font-family="Liberation Sans, Arial, Helvetica, sans-serif" fill="#1a1a1a" stroke="#1a1a1a" stroke-width="0.45">
<text id="xtA2_3.0" x="556.5" y="484.8" font-size="17.5" text-anchor="middle">3.0</text>
<text id="xtA2_3.2" x="631.58" y="484.8" font-size="17.5" text-anchor="middle">3.2</text>
<text id="xtA2_3.4" x="706.06" y="484.8" font-size="17.5" text-anchor="middle">3.4</text>
<text id="xtA2_3.6" x="780.94" y="484.8" font-size="17.5" text-anchor="middle">3.6</text>
<text id="xtA2_3.8" x="855.42" y="484.8" font-size="17.5" text-anchor="middle">3.8</text>
<text id="ytA2_30" x="504.5" y="156.6" font-size="17.5" text-anchor="end">30</text>
<text id="ytA2_25" x="504.5" y="223.75" font-size="17.5" text-anchor="end">25</text>
<text id="ytA2_20" x="504.5" y="290.9" font-size="17.5" text-anchor="end">20</text>
<text id="ytA2_15" x="504.5" y="358.05" font-size="17.5" text-anchor="end">15</text>
<text id="ytA2_10" x="504.5" y="425.2" font-size="17.5" text-anchor="end">10</text>
</g>
<g font-family="Liberation Sans, Arial, Helvetica, sans-serif" fill="#1a1a1a" stroke="#1a1a1a" stroke-width="0.15">
<text id="sbA2" x="535.3" y="401.6" font-size="26" textLength="132.6" lengthAdjust="spacingAndGlyphs" transform="matrix(1 0 0 1.075 0 -30.12)">β = -0.44***</text>
<text id="srA2" x="535.3" y="433.1" font-size="26" transform="matrix(1 0 0 1.075 0 -32.48)">R<tspan font-size="15.34" dy="-12.74">2</tspan><tspan dy="12.74" dx="-1.6"> = 0.21</tspan></text>
</g>
<g><circle cx="590.53" cy="688.5" r="3.05" class="y"/><circle cx="598.49" cy="688.5" r="3.05" class="t"/><circle cx="601.38" cy="688.5" r="3.05" class="t"/><circle cx="604.28" cy="688.5" r="3.05" class="t"/><circle cx="607.18" cy="688.5" r="3.05" class="t"/><circle cx="610.07" cy="688.5" r="3.05" class="t"/><circle cx="612.97" cy="688.5" r="3.05" class="t"/><circle cx="615.87" cy="688.5" r="3.05" class="t"/><circle cx="618.77" cy="688.5" r="3.05" class="t"/><circle cx="621.66" cy="688.5" r="3.05" class="t"/><circle cx="624.56" cy="688.5" r="3.05" class="t"/><circle cx="632.52" cy="688.5" r="3.05" class="y"/><circle cx="637.25" cy="688.5" r="3.05" class="t"/><circle cx="640.02" cy="688.5" r="3.05" class="t"/><circle cx="642.79" cy="688.5" r="3.05" class="t"/><circle cx="645.56" cy="688.5" r="3.05" class="t"/><circle cx="651.79" cy="688.5" r="3.05" class="y"/><circle cx="655.13" cy="688.5" r="3.05" class="y"/><circle cx="658.48" cy="688.5" r="3.05" class="y"/><circle cx="664.02" cy="688.5" r="3.05" class="t"/><circle cx="668.05" cy="688.5" r="3.05" class="y"/><circle cx="682.47" cy="688.5" r="3.05" class="y"/><circle cx="685.47" cy="688.5" r="3.05" class="y"/><circle cx="688.47" cy="688.5" r="3.05" class="y"/><circle cx="691.47" cy="688.5" r="3.05" class="y"/><circle cx="694.47" cy="688.5" r="3.05" class="y"/><circle cx="697.47" cy="688.5" r="3.05" class="y"/><circle cx="700.47" cy="688.5" r="3.05" class="y"/><circle cx="703.47" cy="688.5" r="3.05" class="y"/><circle cx="706.47" cy="688.5" r="3.05" class="y"/><circle cx="709.47" cy="688.5" r="3.05" class="y"/><circle cx="712.47" cy="688.5" r="3.05" class="y"/><circle cx="715.47" cy="688.5" r="3.05" class="y"/><circle cx="718.47" cy="688.5" r="3.05" class="y"/><circle cx="721.47" cy="688.5" r="3.05" class="y"/><circle cx="732.66" cy="688.5" r="3.05" class="y"/><circle cx="741.06" cy="688.5" r="3.05" class="o"/><circle cx="749.62" cy="688.5" r="3.05" class="y"/><circle cx="759.31" cy="688.5" r="3.05" class="o"/><circle cx="765.77" cy="688.5" r="3.05" class="y"/><circle cx="777.88" cy="688.5" r="3.05" class="y"/><circle cx="800.49" cy="688.5" r="3.05" class="y"/><circle cx="610.72" cy="708.65" r="3.05" class="t"/><circle cx="624.33" cy="708.65" r="3.05" class="t"/><circle cx="627.18" cy="708.65" r="3.05" class="t"/><circle cx="630.04" cy="708.65" r="3.05" class="t"/><circle cx="632.9" cy="708.65" r="3.05" class="t"/><circle cx="635.75" cy="708.65" r="3.05" class="t"/><circle cx="638.61" cy="708.65" r="3.05" class="t"/><circle cx="641.46" cy="708.65" r="3.05" class="t"/><circle cx="644.32" cy="708.65" r="3.05" class="t"/><circle cx="647.17" cy="708.65" r="3.05" class="t"/><circle cx="653.4" cy="708.65" r="3.05" class="y"/><circle cx="656.71" cy="708.65" r="3.05" class="y"/><circle cx="660.02" cy="708.65" r="3.05" class="y"/><circle cx="663.32" cy="708.65" r="3.05" class="y"/><circle cx="677.74" cy="708.65" r="3.05" class="y"/><circle cx="682.59" cy="708.65" r="3.05" class="t"/><circle cx="686.63" cy="708.65" r="3.05" class="t"/><circle cx="698.74" cy="708.65" r="3.05" class="y"/><circle cx="706.01" cy="708.65" r="3.05" class="o"/><circle cx="713.28" cy="708.65" r="3.05" class="o"/><circle cx="730.93" cy="708.65" r="3.05" class="y"/><circle cx="733.93" cy="708.65" r="3.05" class="y"/><circle cx="736.93" cy="708.65" r="3.05" class="y"/><circle cx="739.93" cy="708.65" r="3.05" class="y"/><circle cx="742.93" cy="708.65" r="3.05" class="y"/><circle cx="745.93" cy="708.65" r="3.05" class="y"/><circle cx="748.93" cy="708.65" r="3.05" class="y"/><circle cx="785.96" cy="708.65" r="3.05" class="y"/><circle cx="615.56" cy="728.8" r="3.05" class="t"/><circle cx="640.6" cy="728.8" r="3.05" class="o"/><circle cx="649.96" cy="728.8" r="3.05" class="t"/><circle cx="661.59" cy="728.8" r="3.05" class="t"/><circle cx="667.94" cy="728.8" r="3.05" class="y"/><circle cx="670.71" cy="728.8" r="3.05" class="y"/><circle cx="673.48" cy="728.8" r="3.05" class="y"/><circle cx="676.24" cy="728.8" r="3.05" class="y"/><circle cx="687.43" cy="728.8" r="3.05" class="y"/><circle cx="698.63" cy="728.8" r="3.05" class="y"/><circle cx="702.09" cy="728.8" r="3.05" class="y"/><circle cx="706.01" cy="728.8" r="3.05" class="o"/><circle cx="715.7" cy="728.8" r="3.05" class="y"/><circle cx="727.7" cy="728.8" r="3.05" class="o"/><circle cx="730.35" cy="728.8" r="3.05" class="o"/><circle cx="748" cy="728.8" r="3.05" class="o"/><circle cx="771.42" cy="728.8" r="3.05" class="y"/><circle cx="790.8" cy="728.8" r="3.05" class="o"/><circle cx="837.64" cy="728.8" r="3.05" class="y"/><circle cx="638.98" cy="748.95" r="3.05" class="t"/><circle cx="646.25" cy="748.95" r="3.05" class="t"/><circle cx="653.52" cy="748.95" r="3.05" class="y"/><circle cx="664.02" cy="748.95" r="3.05" class="y"/><circle cx="676.94" cy="748.95" r="3.05" class="t"/><circle cx="687.32" cy="748.95" r="3.05" class="y"/><circle cx="690.61" cy="748.95" r="3.05" class="y"/><circle cx="693.9" cy="748.95" r="3.05" class="y"/><circle cx="697.18" cy="748.95" r="3.05" class="y"/><circle cx="700.47" cy="748.95" r="3.05" class="y"/><circle cx="706.49" cy="748.95" r="3.05" class="o"/><circle cx="711.66" cy="748.95" r="3.05" class="y"/><circle cx="717.31" cy="748.95" r="3.05" class="o"/><circle cx="739" cy="748.95" r="3.05" class="o"/><circle cx="741.54" cy="748.95" r="3.05" class="o"/><circle cx="744.08" cy="748.95" r="3.05" class="o"/><circle cx="668.86" cy="769.1" r="3.05" class="o"/><circle cx="752.36" cy="769.1" r="3.05" class="o"/><circle cx="753.66" cy="789.25" r="3.05" class="o"/><circle cx="811.8" cy="789.25" r="3.05" class="y"/><circle cx="742.35" cy="809.4" r="3.05" class="o"/><circle cx="658.04" cy="829.55" r="3.05" class="o"/><circle cx="724.47" cy="829.55" r="3.05" class="o"/><circle cx="726.31" cy="829.55" r="3.05" class="o"/><circle cx="777.07" cy="849.7" r="3.05" class="o"/><circle cx="752.04" cy="930.3" r="3.05" class="o"/></g>
<path d="M513.4,631.7V986.4H862.0" fill="none" stroke="#222" stroke-width="1.3"/>
<path d="M514.4,986.4v1.8M586.98,986.4v1.8M659.55,986.4v1.8M732.12,986.4v1.8M804.7,986.4v1.8M513.4,688.5h-1.8M513.4,789.25h-1.8M513.4,890h-1.8" stroke="#222" stroke-width="1.1"/>
<g font-family="Liberation Sans, Arial, Helvetica, sans-serif" fill="#1a1a1a" stroke="#1a1a1a" stroke-width="0.45">
<text id="xtB2_2.75" x="514.4" y="1009.8" font-size="17.5" text-anchor="middle">2.75</text>
<text id="xtB2_3.00" x="587.27" y="1009.8" font-size="17.5" text-anchor="middle">3.00</text>
<text id="xtB2_3.25" x="659.95" y="1009.8" font-size="17.5" text-anchor="middle">3.25</text>
<text id="xtB2_3.50" x="732.62" y="1009.8" font-size="17.5" text-anchor="middle">3.50</text>
<text id="xtB2_3.75" x="805.6" y="1009.8" font-size="17.5" text-anchor="middle">3.75</text>
<text id="ytB2_30" x="504.5" y="695.7" font-size="17.5" text-anchor="end">30</text>
<text id="ytB2_25" x="504.5" y="796.45" font-size="17.5" text-anchor="end">25</text>
<text id="ytB2_20" x="504.5" y="897.2" font-size="17.5" text-anchor="end">20</text>
</g>
<g font-family="Liberation Sans, Arial, Helvetica, sans-serif" fill="#1a1a1a" stroke="#1a1a1a" stroke-width="0.15">
<text id="sbB2" x="535.3" y="926.3" font-size="26" textLength="132.6" lengthAdjust="spacingAndGlyphs" transform="matrix(1 0 0 1.075 0 -69.47)">β = -0.24***</text>
<text id="srB2" x="535.3" y="957.8" font-size="26" transform="matrix(1 0 0 1.075 0 -71.83)">R<tspan font-size="15.34" dy="-12.74">2</tspan><tspan dy="12.74" dx="-1.6"> = 0.15</tspan></text>
</g>
<g font-family="Liberation Sans, Arial, Helvetica, sans-serif" fill="#1a1a1a" stroke="#1a1a1a" stroke-width="0.4">
<text id="title2" x="684.3" y="35.3" font-size="36.8" text-anchor="middle">pT181/T181</text>
</g>
<g font-family="Liberation Sans, Arial, Helvetica, sans-serif" fill="#1a1a1a">
<text id="xlab2" x="686.6" y="1048.6" font-size="19.8" text-anchor="middle" font-weight="bold">pT181/T181 (log)</text>
</g>
<g><circle cx="960.15" cy="149.4" r="3.05" class="t"/><circle cx="992.34" cy="149.4" r="3.05" class="t"/><circle cx="994.88" cy="149.4" r="3.05" class="t"/><circle cx="997.41" cy="149.4" r="3.05" class="t"/><circle cx="1003.64" cy="149.4" r="3.05" class="y"/><circle cx="1007.11" cy="149.4" r="3.05" class="y"/><circle cx="1013.34" cy="149.4" r="3.05" class="t"/><circle cx="1016.62" cy="149.4" r="3.05" class="t"/><circle cx="1019.91" cy="149.4" r="3.05" class="t"/><circle cx="1023.2" cy="149.4" r="3.05" class="t"/><circle cx="1026.49" cy="149.4" r="3.05" class="t"/><circle cx="1031.22" cy="149.4" r="3.05" class="y"/><circle cx="1037.56" cy="149.4" r="3.05" class="t"/><circle cx="1041.02" cy="149.4" r="3.05" class="t"/><circle cx="1047.37" cy="149.4" r="3.05" class="y"/><circle cx="1053.71" cy="149.4" r="3.05" class="t"/><circle cx="1055.56" cy="149.4" r="3.05" class="t"/><circle cx="1061.9" cy="149.4" r="3.05" class="t"/><circle cx="1068.37" cy="149.4" r="3.05" class="t"/><circle cx="1072.4" cy="149.4" r="3.05" class="y"/><circle cx="1078.06" cy="149.4" r="3.05" class="o"/><circle cx="1086.02" cy="149.4" r="3.05" class="y"/><circle cx="1087.86" cy="149.4" r="3.05" class="y"/><circle cx="1103.09" cy="149.4" r="3.05" class="y"/><circle cx="1111.97" cy="149.4" r="3.05" class="y"/><circle cx="1121.55" cy="149.4" r="3.05" class="o"/><circle cx="1123.4" cy="149.4" r="3.05" class="o"/><circle cx="1131.36" cy="149.4" r="3.05" class="o"/><circle cx="1153.16" cy="149.4" r="3.05" class="o"/><circle cx="1158.81" cy="149.4" r="3.05" class="y"/><circle cx="1165.27" cy="149.4" r="3.05" class="o"/><circle cx="971.78" cy="162.83" r="3.05" class="o"/><circle cx="980.34" cy="162.83" r="3.05" class="y"/><circle cx="989.92" cy="162.83" r="3.05" class="t"/><circle cx="992.86" cy="162.83" r="3.05" class="t"/><circle cx="995.8" cy="162.83" r="3.05" class="t"/><circle cx="1017.49" cy="162.83" r="3.05" class="o"/><circle cx="1030.41" cy="162.83" r="3.05" class="o"/><circle cx="1034.45" cy="162.83" r="3.05" class="o"/><circle cx="1042.41" cy="162.83" r="3.05" class="t"/><circle cx="1045.21" cy="162.83" r="3.05" class="t"/><circle cx="1048.01" cy="162.83" r="3.05" class="t"/><circle cx="1050.81" cy="162.83" r="3.05" class="t"/><circle cx="1053.61" cy="162.83" r="3.05" class="t"/><circle cx="1056.42" cy="162.83" r="3.05" class="t"/><circle cx="1059.22" cy="162.83" r="3.05" class="t"/><circle cx="1062.02" cy="162.83" r="3.05" class="t"/><circle cx="1069.87" cy="162.83" r="3.05" class="y"/><circle cx="1071.71" cy="162.83" r="3.05" class="y"/><circle cx="1080.48" cy="162.83" r="3.05" class="t"/><circle cx="1086.13" cy="162.83" r="3.05" class="y"/><circle cx="1090.17" cy="162.83" r="3.05" class="t"/><circle cx="1095.82" cy="162.83" r="3.05" class="y"/><circle cx="1105.51" cy="162.83" r="3.05" class="o"/><circle cx="1114.4" cy="162.83" r="3.05" class="o"/><circle cx="1126.51" cy="162.83" r="3.05" class="y"/><circle cx="1139.43" cy="162.83" r="3.05" class="o"/><circle cx="1147.51" cy="162.83" r="3.05" class="o"/><circle cx="1158.81" cy="162.83" r="3.05" class="y"/><circle cx="1174.96" cy="162.83" r="3.05" class="o"/><circle cx="1181.43" cy="162.83" r="3.05" class="r"/><circle cx="1191.92" cy="162.83" r="3.05" class="o"/><circle cx="1011.03" cy="176.26" r="3.05" class="y"/><circle cx="1019.8" cy="176.26" r="3.05" class="t"/><circle cx="1023.14" cy="176.26" r="3.05" class="t"/><circle cx="1026.49" cy="176.26" r="3.05" class="t"/><circle cx="1034.45" cy="176.26" r="3.05" class="y"/><circle cx="1037.68" cy="176.26" r="3.05" class="t"/><circle cx="1044.14" cy="176.26" r="3.05" class="o"/><circle cx="1057.06" cy="176.26" r="3.05" class="t"/><circle cx="1069.87" cy="176.26" r="3.05" class="o"/><circle cx="1073.21" cy="176.26" r="3.05" class="o"/><circle cx="1076.56" cy="176.26" r="3.05" class="o"/><circle cx="1082.79" cy="176.26" r="3.05" class="t"/><circle cx="1086.25" cy="176.26" r="3.05" class="t"/><circle cx="1094.09" cy="176.26" r="3.05" class="y"/><circle cx="1096.86" cy="176.26" r="3.05" class="y"/><circle cx="1099.63" cy="176.26" r="3.05" class="y"/><circle cx="1102.4" cy="176.26" r="3.05" class="y"/><circle cx="1116.82" cy="176.26" r="3.05" class="o"/><circle cx="1120.05" cy="176.26" r="3.05" class="y"/><circle cx="1130.55" cy="176.26" r="3.05" class="o"/><circle cx="1144.28" cy="176.26" r="3.05" class="o"/><circle cx="1153.16" cy="176.26" r="3.05" class="y"/><circle cx="1162.85" cy="176.26" r="3.05" class="o"/><circle cx="1168.5" cy="176.26" r="3.05" class="y"/><circle cx="1173.35" cy="176.26" r="3.05" class="r"/><circle cx="992.45" cy="189.69" r="3.05" class="y"/><circle cx="1001.82" cy="189.69" r="3.05" class="t"/><circle cx="1011.84" cy="189.69" r="3.05" class="y"/><circle cx="1031.22" cy="189.69" r="3.05" class="o"/><circle cx="1040.91" cy="189.69" r="3.05" class="o"/><circle cx="1044.95" cy="189.69" r="3.05" class="t"/><circle cx="1049.79" cy="189.69" r="3.05" class="y"/><circle cx="1065.02" cy="189.69" r="3.05" class="t"/><circle cx="1066.87" cy="189.69" r="3.05" class="t"/><circle cx="1073.21" cy="189.69" r="3.05" class="y"/><circle cx="1077.25" cy="189.69" r="3.05" class="o"/><circle cx="1084.52" cy="189.69" r="3.05" class="y"/><circle cx="1093.4" cy="189.69" r="3.05" class="o"/><circle cx="1108.74" cy="189.69" r="3.05" class="o"/><circle cx="1113.59" cy="189.69" r="3.05" class="y"/><circle cx="1117.63" cy="189.69" r="3.05" class="o"/><circle cx="1121.66" cy="189.69" r="3.05" class="r"/><circle cx="1126.51" cy="189.69" r="3.05" class="o"/><circle cx="1132.16" cy="189.69" r="3.05" class="y"/><circle cx="1148.31" cy="189.69" r="3.05" class="o"/><circle cx="1166.08" cy="189.69" r="3.05" class="o"/><circle cx="1190.31" cy="189.69" r="3.05" class="o"/><circle cx="1208.88" cy="189.69" r="3.05" class="r"/><circle cx="1228.26" cy="189.69" r="3.05" class="o"/><circle cx="1023.14" cy="203.12" r="3.05" class="t"/><circle cx="1034.45" cy="203.12" r="3.05" class="t"/><circle cx="1065.83" cy="203.12" r="3.05" class="o"/><circle cx="1070.1" cy="203.12" r="3.05" class="o"/><circle cx="1083.71" cy="203.12" r="3.05" class="o"/><circle cx="1105.19" cy="203.12" r="3.05" class="o"/><circle cx="1110.36" cy="203.12" r="3.05" class="y"/><circle cx="1116.7" cy="203.12" r="3.05" class="o"/><circle cx="1119.47" cy="203.12" r="3.05" class="o"/><circle cx="1122.24" cy="203.12" r="3.05" class="o"/><circle cx="1125.01" cy="203.12" r="3.05" class="o"/><circle cx="1129.74" cy="203.12" r="3.05" class="r"/><circle cx="1137.82" cy="203.12" r="3.05" class="o"/><circle cx="1171.73" cy="203.12" r="3.05" class="o"/><circle cx="1177.39" cy="203.12" r="3.05" class="r"/><circle cx="1186.27" cy="203.12" r="3.05" class="o"/><circle cx="1211.31" cy="203.12" r="3.05" class="r"/><circle cx="1041.72" cy="216.55" r="3.05" class="o"/><circle cx="1107.13" cy="216.55" r="3.05" class="y"/><circle cx="1123.16" cy="216.55" r="3.05" class="o"/><circle cx="1126.51" cy="216.55" r="3.05" class="o"/><circle cx="1129.86" cy="216.55" r="3.05" class="o"/><circle cx="1136.2" cy="216.55" r="3.05" class="r"/><circle cx="1152.24" cy="216.55" r="3.05" class="o"/><circle cx="1155.01" cy="216.55" r="3.05" class="o"/><circle cx="1157.77" cy="216.55" r="3.05" class="o"/><circle cx="1160.54" cy="216.55" r="3.05" class="o"/><circle cx="1170.93" cy="216.55" r="3.05" class="o"/><circle cx="1216.96" cy="216.55" r="3.05" class="o"/><circle cx="1027.99" cy="229.98" r="3.05" class="o"/><circle cx="1037.35" cy="229.98" r="3.05" class="o"/><circle cx="1044.95" cy="229.98" r="3.05" class="o"/><circle cx="1086.94" cy="229.98" r="3.05" class="o"/><circle cx="1097.32" cy="229.98" r="3.05" class="o"/><circle cx="1099.86" cy="229.98" r="3.05" class="o"/><circle cx="1102.4" cy="229.98" r="3.05" class="o"/><circle cx="1107.94" cy="229.98" r="3.05" class="r"/><circle cx="1131.36" cy="229.98" r="3.05" class="o"/><circle cx="1138.51" cy="229.98" r="3.05" class="r"/><circle cx="1141.16" cy="229.98" r="3.05" class="r"/><circle cx="1155.26" cy="229.98" r="3.05" class="r"/><circle cx="1168.5" cy="229.98" r="3.05" class="o"/><circle cx="1196.28" cy="229.98" r="3.05" class="r"/><circle cx="1209.69" cy="229.98" r="3.05" class="r"/><circle cx="996.01" cy="243.41" r="3.05" class="o"/><circle cx="1061.1" cy="243.41" r="3.05" class="r"/><circle cx="1077.25" cy="243.41" r="3.05" class="o"/><circle cx="1107.45" cy="243.41" r="3.05" class="r"/><circle cx="1134.91" cy="243.41" r="3.05" class="r"/><circle cx="1144.97" cy="243.41" r="3.05" class="r"/><circle cx="1148.43" cy="243.41" r="3.05" class="r"/><circle cx="1162.37" cy="243.41" r="3.05" class="r"/><circle cx="1173.23" cy="243.41" r="3.05" class="r"/><circle cx="1176.58" cy="243.41" r="3.05" class="r"/><circle cx="1179.93" cy="243.41" r="3.05" class="r"/><circle cx="1191.44" cy="243.41" r="3.05" class="r"/><circle cx="1124.9" cy="256.84" r="3.05" class="r"/><circle cx="1138.62" cy="256.84" r="3.05" class="r"/><circle cx="1155.47" cy="256.84" r="3.05" class="r"/><circle cx="1158.93" cy="256.84" r="3.05" class="r"/><circle cx="1169.2" cy="256.84" r="3.05" class="r"/><circle cx="1172.31" cy="256.84" r="3.05" class="r"/><circle cx="1175.43" cy="256.84" r="3.05" class="r"/><circle cx="1178.54" cy="256.84" r="3.05" class="r"/><circle cx="1181.66" cy="256.84" r="3.05" class="r"/><circle cx="1184.77" cy="256.84" r="3.05" class="r"/><circle cx="1204.84" cy="256.84" r="3.05" class="r"/><circle cx="1233.92" cy="256.84" r="3.05" class="r"/><circle cx="1128.93" cy="270.27" r="3.05" class="r"/><circle cx="1140.24" cy="270.27" r="3.05" class="r"/><circle cx="1149.12" cy="270.27" r="3.05" class="r"/><circle cx="1174.85" cy="270.27" r="3.05" class="r"/><circle cx="1175.89" cy="270.27" r="3.05" class="r"/><circle cx="1188.69" cy="270.27" r="3.05" class="r"/><circle cx="1225.84" cy="270.27" r="3.05" class="r"/><circle cx="1144.97" cy="283.7" r="3.05" class="r"/><circle cx="1148.28" cy="283.7" r="3.05" class="r"/><circle cx="1151.58" cy="283.7" r="3.05" class="r"/><circle cx="1154.89" cy="283.7" r="3.05" class="r"/><circle cx="1167.7" cy="283.7" r="3.05" class="r"/><circle cx="1174.85" cy="283.7" r="3.05" class="r"/><circle cx="1177.39" cy="283.7" r="3.05" class="r"/><circle cx="1179.93" cy="283.7" r="3.05" class="r"/><circle cx="1172.54" cy="297.13" r="3.05" class="r"/><circle cx="1191.12" cy="297.13" r="3.05" class="r"/><circle cx="1145.08" cy="310.56" r="3.05" class="r"/><circle cx="1157.89" cy="310.56" r="3.05" class="r"/><circle cx="1160.66" cy="310.56" r="3.05" class="r"/><circle cx="1163.43" cy="310.56" r="3.05" class="r"/><circle cx="1166.2" cy="310.56" r="3.05" class="r"/><circle cx="1176.26" cy="310.56" r="3.05" class="r"/><circle cx="1189.39" cy="310.56" r="3.05" class="r"/><circle cx="1191.23" cy="310.56" r="3.05" class="r"/><circle cx="1208.07" cy="310.56" r="3.05" class="r"/><circle cx="1125.22" cy="323.99" r="3.05" class="r"/><circle cx="1149.81" cy="323.99" r="3.05" class="r"/><circle cx="1151.66" cy="323.99" r="3.05" class="r"/><circle cx="1166.08" cy="323.99" r="3.05" class="r"/><circle cx="1140.12" cy="337.42" r="3.05" class="r"/><circle cx="1141.97" cy="337.42" r="3.05" class="r"/><circle cx="1149.45" cy="337.42" r="3.05" class="r"/><circle cx="1186.59" cy="337.42" r="3.05" class="r"/><circle cx="1207.27" cy="337.42" r="3.05" class="r"/><circle cx="1148.31" cy="350.85" r="3.05" class="r"/><circle cx="1185.35" cy="350.85" r="3.05" class="r"/><circle cx="1186.39" cy="350.85" r="3.05" class="r"/><circle cx="1204.36" cy="350.85" r="3.05" class="r"/><circle cx="1184.54" cy="364.28" r="3.05" class="r"/><circle cx="1186.39" cy="364.28" r="3.05" class="r"/><circle cx="1166.89" cy="377.71" r="3.05" class="r"/><circle cx="1186.59" cy="377.71" r="3.05" class="r"/><circle cx="1277.53" cy="377.71" r="3.05" class="r"/><circle cx="1154.66" cy="391.14" r="3.05" class="r"/><circle cx="1158.93" cy="391.14" r="3.05" class="r"/><circle cx="1178.89" cy="391.14" r="3.05" class="r"/><circle cx="1181.54" cy="391.14" r="3.05" class="r"/><circle cx="1180.62" cy="404.57" r="3.05" class="r"/><circle cx="1188.69" cy="404.57" r="3.05" class="r"/><circle cx="1221.48" cy="404.57" r="3.05" class="r"/><circle cx="1148.31" cy="444.86" r="3.05" class="r"/></g>
<path d="M944.6,105.5V461.4H1293.0" fill="none" stroke="#222" stroke-width="1.3"/>
<path d="M1001.15,461.4v1.8M1083.6,461.4v1.8M1166.05,461.4v1.8M1248.5,461.4v1.8M944.6,149.4h-1.8M944.6,216.55h-1.8M944.6,283.7h-1.8M944.6,350.85h-1.8M944.6,418h-1.8" stroke="#222" stroke-width="1.1"/>
<g font-family="Liberation Sans, Arial, Helvetica, sans-serif" fill="#1a1a1a" stroke="#1a1a1a" stroke-width="0.45">
<text id="xtA3_-0.5" x="1003.85" y="484.8" font-size="17.5" text-anchor="middle">-0.5</text>
<text id="xtA3_0.0" x="1085.9" y="484.8" font-size="17.5" text-anchor="middle">0.0</text>
<text id="xtA3_0.5" x="1169.05" y="484.8" font-size="17.5" text-anchor="middle">0.5</text>
<text id="xtA3_1.0" x="1250.9" y="484.8" font-size="17.5" text-anchor="middle">1.0</text>
<text id="ytA3_30" x="935.7" y="156.6" font-size="17.5" text-anchor="end">30</text>
<text id="ytA3_25" x="935.7" y="223.75" font-size="17.5" text-anchor="end">25</text>
<text id="ytA3_20" x="935.7" y="290.9" font-size="17.5" text-anchor="end">20</text>
<text id="ytA3_15" x="935.7" y="358.05" font-size="17.5" text-anchor="end">15</text>
<text id="ytA3_10" x="935.7" y="425.2" font-size="17.5" text-anchor="end">10</text>
</g>
<g font-family="Liberation Sans, Arial, Helvetica, sans-serif" fill="#1a1a1a" stroke="#1a1a1a" stroke-width="0.15">
<text id="sbA3" x="968.2" y="401.6" font-size="26" textLength="132.6" lengthAdjust="spacingAndGlyphs" transform="matrix(1 0 0 1.075 0 -30.12)">β = -0.63***</text>
<text id="srA3" x="968.2" y="433.1" font-size="26" transform="matrix(1 0 0 1.075 0 -32.48)">R<tspan font-size="15.34" dy="-12.74">2</tspan><tspan dy="12.74" dx="-1.6"> = 0.40</tspan></text>
</g>
<g><circle cx="966.61" cy="688.5" r="3.05" class="y"/><circle cx="1005.05" cy="688.5" r="3.05" class="t"/><circle cx="1013.34" cy="688.5" r="3.05" class="t"/><circle cx="1016.8" cy="688.5" r="3.05" class="t"/><circle cx="1033.64" cy="688.5" r="3.05" class="t"/><circle cx="1040.79" cy="688.5" r="3.05" class="y"/><circle cx="1043.56" cy="688.5" r="3.05" class="y"/><circle cx="1046.33" cy="688.5" r="3.05" class="y"/><circle cx="1049.1" cy="688.5" r="3.05" class="y"/><circle cx="1053.83" cy="688.5" r="3.05" class="t"/><circle cx="1058.56" cy="688.5" r="3.05" class="t"/><circle cx="1061.44" cy="688.5" r="3.05" class="t"/><circle cx="1064.33" cy="688.5" r="3.05" class="t"/><circle cx="1067.21" cy="688.5" r="3.05" class="t"/><circle cx="1070.1" cy="688.5" r="3.05" class="t"/><circle cx="1076.44" cy="688.5" r="3.05" class="y"/><circle cx="1081.29" cy="688.5" r="3.05" class="t"/><circle cx="1087.63" cy="688.5" r="3.05" class="y"/><circle cx="1090.4" cy="688.5" r="3.05" class="y"/><circle cx="1093.17" cy="688.5" r="3.05" class="y"/><circle cx="1095.94" cy="688.5" r="3.05" class="y"/><circle cx="1100.55" cy="688.5" r="3.05" class="t"/><circle cx="1104.01" cy="688.5" r="3.05" class="t"/><circle cx="1110.36" cy="688.5" r="3.05" class="y"/><circle cx="1120.05" cy="688.5" r="3.05" class="y"/><circle cx="1124.9" cy="688.5" r="3.05" class="t"/><circle cx="1129.74" cy="688.5" r="3.05" class="y"/><circle cx="1132.97" cy="688.5" r="3.05" class="t"/><circle cx="1139.32" cy="688.5" r="3.05" class="y"/><circle cx="1142.42" cy="688.5" r="3.05" class="y"/><circle cx="1145.53" cy="688.5" r="3.05" class="y"/><circle cx="1148.63" cy="688.5" r="3.05" class="y"/><circle cx="1151.73" cy="688.5" r="3.05" class="y"/><circle cx="1154.84" cy="688.5" r="3.05" class="y"/><circle cx="1157.94" cy="688.5" r="3.05" class="y"/><circle cx="1161.05" cy="688.5" r="3.05" class="y"/><circle cx="1164.15" cy="688.5" r="3.05" class="y"/><circle cx="1167.26" cy="688.5" r="3.05" class="y"/><circle cx="1170.36" cy="688.5" r="3.05" class="y"/><circle cx="1173.46" cy="688.5" r="3.05" class="y"/><circle cx="1182.72" cy="688.5" r="3.05" class="o"/><circle cx="1192.73" cy="688.5" r="3.05" class="o"/><circle cx="1202.42" cy="688.5" r="3.05" class="y"/><circle cx="1212.44" cy="688.5" r="3.05" class="o"/><circle cx="1238.28" cy="688.5" r="3.05" class="o"/><circle cx="1010.22" cy="708.65" r="3.05" class="t"/><circle cx="1018.62" cy="708.65" r="3.05" class="t"/><circle cx="1024.76" cy="708.65" r="3.05" class="y"/><circle cx="1037.35" cy="708.65" r="3.05" class="t"/><circle cx="1047.37" cy="708.65" r="3.05" class="t"/><circle cx="1052.21" cy="708.65" r="3.05" class="o"/><circle cx="1056.94" cy="708.65" r="3.05" class="y"/><circle cx="1059.71" cy="708.65" r="3.05" class="y"/><circle cx="1062.48" cy="708.65" r="3.05" class="y"/><circle cx="1065.25" cy="708.65" r="3.05" class="y"/><circle cx="1069.98" cy="708.65" r="3.05" class="y"/><circle cx="1076.33" cy="708.65" r="3.05" class="t"/><circle cx="1078.86" cy="708.65" r="3.05" class="t"/><circle cx="1081.4" cy="708.65" r="3.05" class="t"/><circle cx="1086.13" cy="708.65" r="3.05" class="y"/><circle cx="1091.67" cy="708.65" r="3.05" class="t"/><circle cx="1093.52" cy="708.65" r="3.05" class="t"/><circle cx="1099.05" cy="708.65" r="3.05" class="y"/><circle cx="1116.82" cy="708.65" r="3.05" class="y"/><circle cx="1121.66" cy="708.65" r="3.05" class="t"/><circle cx="1128.01" cy="708.65" r="3.05" class="y"/><circle cx="1131.29" cy="708.65" r="3.05" class="y"/><circle cx="1134.56" cy="708.65" r="3.05" class="y"/><circle cx="1137.84" cy="708.65" r="3.05" class="y"/><circle cx="1141.12" cy="708.65" r="3.05" class="y"/><circle cx="1144.39" cy="708.65" r="3.05" class="y"/><circle cx="1194.35" cy="708.65" r="3.05" class="y"/><circle cx="1209.69" cy="708.65" r="3.05" class="o"/><circle cx="1222.61" cy="708.65" r="3.05" class="o"/><circle cx="1230.69" cy="708.65" r="3.05" class="y"/><circle cx="1065.94" cy="728.8" r="3.05" class="t"/><circle cx="1077.25" cy="728.8" r="3.05" class="y"/><circle cx="1089.36" cy="728.8" r="3.05" class="t"/><circle cx="1098.25" cy="728.8" r="3.05" class="t"/><circle cx="1105.4" cy="728.8" r="3.05" class="y"/><circle cx="1107.24" cy="728.8" r="3.05" class="y"/><circle cx="1124.09" cy="728.8" r="3.05" class="y"/><circle cx="1146.7" cy="728.8" r="3.05" class="o"/><circle cx="1159.62" cy="728.8" r="3.05" class="y"/><circle cx="1170" cy="728.8" r="3.05" class="o"/><circle cx="1171.85" cy="728.8" r="3.05" class="o"/><circle cx="1181.43" cy="728.8" r="3.05" class="t"/><circle cx="1187.89" cy="728.8" r="3.05" class="y"/><circle cx="1211.31" cy="728.8" r="3.05" class="y"/><circle cx="1051.41" cy="748.95" r="3.05" class="t"/><circle cx="1063.52" cy="748.95" r="3.05" class="y"/><circle cx="1076.33" cy="748.95" r="3.05" class="t"/><circle cx="1078.17" cy="748.95" r="3.05" class="t"/><circle cx="1084.52" cy="748.95" r="3.05" class="o"/><circle cx="1089.36" cy="748.95" r="3.05" class="t"/><circle cx="1105.4" cy="748.95" r="3.05" class="y"/><circle cx="1108.86" cy="748.95" r="3.05" class="y"/><circle cx="1124.9" cy="748.95" r="3.05" class="y"/><circle cx="1133.78" cy="748.95" r="3.05" class="y"/><circle cx="1162.74" cy="748.95" r="3.05" class="o"/><circle cx="1166.2" cy="748.95" r="3.05" class="o"/><circle cx="1176.58" cy="748.95" r="3.05" class="o"/><circle cx="1192.73" cy="748.95" r="3.05" class="o"/><circle cx="1209.69" cy="748.95" r="3.05" class="o"/><circle cx="1218.57" cy="748.95" r="3.05" class="o"/><circle cx="1225.03" cy="748.95" r="3.05" class="y"/><circle cx="1271.07" cy="748.95" r="3.05" class="y"/><circle cx="1177.39" cy="769.1" r="3.05" class="o"/><circle cx="1228.59" cy="769.1" r="3.05" class="o"/><circle cx="1180.62" cy="789.25" r="3.05" class="o"/><circle cx="1221" cy="789.25" r="3.05" class="y"/><circle cx="1219.87" cy="809.4" r="3.05" class="o"/><circle cx="1147.83" cy="829.55" r="3.05" class="o"/><circle cx="1168.5" cy="829.55" r="3.05" class="o"/><circle cx="1182.23" cy="829.55" r="3.05" class="o"/><circle cx="1214.54" cy="849.7" r="3.05" class="o"/><circle cx="1189.82" cy="930.3" r="3.05" class="o"/></g>
<path d="M944.6,631.7V986.4H1293.0" fill="none" stroke="#222" stroke-width="1.3"/>
<path d="M1018.15,986.4v1.8M1098,986.4v1.8M1177.85,986.4v1.8M1257.7,986.4v1.8M944.6,688.5h-1.8M944.6,789.25h-1.8M944.6,890h-1.8" stroke="#222" stroke-width="1.1"/>
<g font-family="Liberation Sans, Arial, Helvetica, sans-serif" fill="#1a1a1a" stroke="#1a1a1a" stroke-width="0.45">
<text id="xtB3_-0.5" x="1020.25" y="1009.8" font-size="17.5" text-anchor="middle">-0.5</text>
<text id="xtB3_0.0" x="1101.5" y="1009.8" font-size="17.5" text-anchor="middle">0.0</text>
<text id="xtB3_0.5" x="1179.85" y="1009.8" font-size="17.5" text-anchor="middle">0.5</text>
<text id="xtB3_1.0" x="1258.1" y="1009.8" font-size="17.5" text-anchor="middle">1.0</text>
<text id="ytB3_30" x="935.7" y="695.7" font-size="17.5" text-anchor="end">30</text>
<text id="ytB3_25" x="935.7" y="796.45" font-size="17.5" text-anchor="end">25</text>
<text id="ytB3_20" x="935.7" y="897.2" font-size="17.5" text-anchor="end">20</text>
</g>
<g font-family="Liberation Sans, Arial, Helvetica, sans-serif" fill="#1a1a1a" stroke="#1a1a1a" stroke-width="0.15">
<text id="sbB3" x="968.2" y="926.3" font-size="26" textLength="132.6" lengthAdjust="spacingAndGlyphs" transform="matrix(1 0 0 1.075 0 -69.47)">β = -0.48***</text>
<text id="srB3" x="968.2" y="957.8" font-size="26" transform="matrix(1 0 0 1.075 0 -71.83)">R<tspan font-size="15.34" dy="-12.74">2</tspan><tspan dy="12.74" dx="-1.6"> = 0.30</tspan></text>
</g>
<g font-family="Liberation Sans, Arial, Helvetica, sans-serif" fill="#1a1a1a" stroke="#1a1a1a" stroke-width="0.4">
<text id="title3" x="1118.3" y="35.3" font-size="36.8" text-anchor="middle">pT205/T205</text>
</g>
<g font-family="Liberation Sans, Arial, Helvetica, sans-serif" fill="#1a1a1a">
<text id="xlab3" x="1118.35" y="1048.6" font-size="19.8" text-anchor="middle" font-weight="bold">pT205/T205 (log)</text>
</g>
<g><circle cx="1391.34" cy="149.4" r="3.05" class="t"/><circle cx="1408.19" cy="149.4" r="3.05" class="t"/><circle cx="1410.99" cy="149.4" r="3.05" class="t"/><circle cx="1413.79" cy="149.4" r="3.05" class="t"/><circle cx="1416.59" cy="149.4" r="3.05" class="t"/><circle cx="1419.39" cy="149.4" r="3.05" class="t"/><circle cx="1422.2" cy="149.4" r="3.05" class="t"/><circle cx="1425" cy="149.4" r="3.05" class="t"/><circle cx="1427.8" cy="149.4" r="3.05" class="t"/><circle cx="1435.76" cy="149.4" r="3.05" class="t"/><circle cx="1443.72" cy="149.4" r="3.05" class="t"/><circle cx="1447.07" cy="149.4" r="3.05" class="t"/><circle cx="1450.41" cy="149.4" r="3.05" class="t"/><circle cx="1455.14" cy="149.4" r="3.05" class="y"/><circle cx="1464.72" cy="149.4" r="3.05" class="t"/><circle cx="1466.56" cy="149.4" r="3.05" class="t"/><circle cx="1472.79" cy="149.4" r="3.05" class="y"/><circle cx="1475.79" cy="149.4" r="3.05" class="y"/><circle cx="1478.79" cy="149.4" r="3.05" class="y"/><circle cx="1481.79" cy="149.4" r="3.05" class="y"/><circle cx="1484.79" cy="149.4" r="3.05" class="y"/><circle cx="1487.79" cy="149.4" r="3.05" class="y"/><circle cx="1490.79" cy="149.4" r="3.05" class="y"/><circle cx="1495.52" cy="149.4" r="3.05" class="o"/><circle cx="1509.94" cy="149.4" r="3.05" class="y"/><circle cx="1513.25" cy="149.4" r="3.05" class="y"/><circle cx="1516.56" cy="149.4" r="3.05" class="y"/><circle cx="1519.86" cy="149.4" r="3.05" class="y"/><circle cx="1527.82" cy="149.4" r="3.05" class="y"/><circle cx="1535.09" cy="149.4" r="3.05" class="t"/><circle cx="1542.36" cy="149.4" r="3.05" class="o"/><circle cx="1548.7" cy="149.4" r="3.05" class="y"/><circle cx="1551.24" cy="149.4" r="3.05" class="y"/><circle cx="1553.78" cy="149.4" r="3.05" class="y"/><circle cx="1561.63" cy="149.4" r="3.05" class="y"/><circle cx="1564.9" cy="149.4" r="3.05" class="y"/><circle cx="1568.18" cy="149.4" r="3.05" class="y"/><circle cx="1571.45" cy="149.4" r="3.05" class="y"/><circle cx="1574.73" cy="149.4" r="3.05" class="y"/><circle cx="1578.01" cy="149.4" r="3.05" class="y"/><circle cx="1586.78" cy="149.4" r="3.05" class="o"/><circle cx="1606.85" cy="149.4" r="3.05" class="y"/><circle cx="1610.19" cy="149.4" r="3.05" class="y"/><circle cx="1613.54" cy="149.4" r="3.05" class="y"/><circle cx="1619.08" cy="149.4" r="3.05" class="o"/><circle cx="1629.58" cy="149.4" r="3.05" class="y"/><circle cx="1652.07" cy="149.4" r="3.05" class="o"/><circle cx="1653.92" cy="149.4" r="3.05" class="o"/><circle cx="1400.23" cy="162.83" r="3.05" class="t"/><circle cx="1416.26" cy="162.83" r="3.05" class="t"/><circle cx="1419.57" cy="162.83" r="3.05" class="t"/><circle cx="1422.88" cy="162.83" r="3.05" class="t"/><circle cx="1426.18" cy="162.83" r="3.05" class="t"/><circle cx="1438.07" cy="162.83" r="3.05" class="t"/><circle cx="1441.15" cy="162.83" r="3.05" class="t"/><circle cx="1444.24" cy="162.83" r="3.05" class="t"/><circle cx="1447.33" cy="162.83" r="3.05" class="t"/><circle cx="1450.41" cy="162.83" r="3.05" class="t"/><circle cx="1455.14" cy="162.83" r="3.05" class="o"/><circle cx="1467.14" cy="162.83" r="3.05" class="t"/><circle cx="1468.18" cy="162.83" r="3.05" class="t"/><circle cx="1476.02" cy="162.83" r="3.05" class="y"/><circle cx="1477.87" cy="162.83" r="3.05" class="y"/><circle cx="1484.21" cy="162.83" r="3.05" class="o"/><circle cx="1511.56" cy="162.83" r="3.05" class="y"/><circle cx="1514.9" cy="162.83" r="3.05" class="y"/><circle cx="1518.25" cy="162.83" r="3.05" class="y"/><circle cx="1527.71" cy="162.83" r="3.05" class="y"/><circle cx="1529.55" cy="162.83" r="3.05" class="y"/><circle cx="1536.71" cy="162.83" r="3.05" class="t"/><circle cx="1555.28" cy="162.83" r="3.05" class="o"/><circle cx="1561.63" cy="162.83" r="3.05" class="y"/><circle cx="1565.09" cy="162.83" r="3.05" class="y"/><circle cx="1570.62" cy="162.83" r="3.05" class="o"/><circle cx="1579.51" cy="162.83" r="3.05" class="y"/><circle cx="1587.58" cy="162.83" r="3.05" class="t"/><circle cx="1592.43" cy="162.83" r="3.05" class="o"/><circle cx="1611.69" cy="162.83" r="3.05" class="y"/><circle cx="1614.23" cy="162.83" r="3.05" class="y"/><circle cx="1616.77" cy="162.83" r="3.05" class="y"/><circle cx="1624.62" cy="162.83" r="3.05" class="o"/><circle cx="1627.15" cy="162.83" r="3.05" class="o"/><circle cx="1629.69" cy="162.83" r="3.05" class="o"/><circle cx="1634.42" cy="162.83" r="3.05" class="r"/><circle cx="1641.69" cy="162.83" r="3.05" class="y"/><circle cx="1652.19" cy="162.83" r="3.05" class="o"/><circle cx="1658.65" cy="162.83" r="3.05" class="y"/><circle cx="1662.69" cy="162.83" r="3.05" class="o"/><circle cx="1677.22" cy="162.83" r="3.05" class="o"/><circle cx="1395.38" cy="176.26" r="3.05" class="t"/><circle cx="1409.11" cy="176.26" r="3.05" class="t"/><circle cx="1427.57" cy="176.26" r="3.05" class="t"/><circle cx="1431.03" cy="176.26" r="3.05" class="t"/><circle cx="1435.76" cy="176.26" r="3.05" class="y"/><circle cx="1442.11" cy="176.26" r="3.05" class="t"/><circle cx="1445.45" cy="176.26" r="3.05" class="t"/><circle cx="1448.8" cy="176.26" r="3.05" class="t"/><circle cx="1461.6" cy="176.26" r="3.05" class="t"/><circle cx="1477.75" cy="176.26" r="3.05" class="y"/><circle cx="1489.06" cy="176.26" r="3.05" class="o"/><circle cx="1503.6" cy="176.26" r="3.05" class="y"/><circle cx="1518.13" cy="176.26" r="3.05" class="y"/><circle cx="1531.05" cy="176.26" r="3.05" class="o"/><circle cx="1535.9" cy="176.26" r="3.05" class="t"/><circle cx="1540.74" cy="176.26" r="3.05" class="o"/><circle cx="1550.43" cy="176.26" r="3.05" class="y"/><circle cx="1562.55" cy="176.26" r="3.05" class="o"/><circle cx="1571.32" cy="176.26" r="3.05" class="y"/><circle cx="1574.78" cy="176.26" r="3.05" class="y"/><circle cx="1582.74" cy="176.26" r="3.05" class="o"/><circle cx="1598.89" cy="176.26" r="3.05" class="o"/><circle cx="1611" cy="176.26" r="3.05" class="o"/><circle cx="1619.89" cy="176.26" r="3.05" class="y"/><circle cx="1626.35" cy="176.26" r="3.05" class="r"/><circle cx="1632.81" cy="176.26" r="3.05" class="o"/><circle cx="1669.95" cy="176.26" r="3.05" class="y"/><circle cx="1401.52" cy="189.69" r="3.05" class="t"/><circle cx="1439.68" cy="189.69" r="3.05" class="t"/><circle cx="1442.62" cy="189.69" r="3.05" class="t"/><circle cx="1445.57" cy="189.69" r="3.05" class="t"/><circle cx="1459.87" cy="189.69" r="3.05" class="t"/><circle cx="1464.14" cy="189.69" r="3.05" class="t"/><circle cx="1482.6" cy="189.69" r="3.05" class="t"/><circle cx="1497.14" cy="189.69" r="3.05" class="y"/><circle cx="1510.06" cy="189.69" r="3.05" class="o"/><circle cx="1514.9" cy="189.69" r="3.05" class="y"/><circle cx="1526.21" cy="189.69" r="3.05" class="y"/><circle cx="1537.51" cy="189.69" r="3.05" class="o"/><circle cx="1547.09" cy="189.69" r="3.05" class="o"/><circle cx="1550.55" cy="189.69" r="3.05" class="o"/><circle cx="1556.9" cy="189.69" r="3.05" class="y"/><circle cx="1571.43" cy="189.69" r="3.05" class="o"/><circle cx="1577.78" cy="189.69" r="3.05" class="y"/><circle cx="1579.62" cy="189.69" r="3.05" class="y"/><circle cx="1585.85" cy="189.69" r="3.05" class="o"/><circle cx="1588.39" cy="189.69" r="3.05" class="o"/><circle cx="1590.93" cy="189.69" r="3.05" class="o"/><circle cx="1598.89" cy="189.69" r="3.05" class="y"/><circle cx="1606.16" cy="189.69" r="3.05" class="o"/><circle cx="1618.27" cy="189.69" r="3.05" class="r"/><circle cx="1623" cy="189.69" r="3.05" class="o"/><circle cx="1626.35" cy="189.69" r="3.05" class="o"/><circle cx="1629.69" cy="189.69" r="3.05" class="o"/><circle cx="1656.92" cy="189.69" r="3.05" class="o"/><circle cx="1658.76" cy="189.69" r="3.05" class="o"/><circle cx="1663.49" cy="189.69" r="3.05" class="r"/><circle cx="1446.26" cy="203.12" r="3.05" class="t"/><circle cx="1505.21" cy="203.12" r="3.05" class="t"/><circle cx="1522.05" cy="203.12" r="3.05" class="o"/><circle cx="1526.32" cy="203.12" r="3.05" class="o"/><circle cx="1547.2" cy="203.12" r="3.05" class="o"/><circle cx="1568.09" cy="203.12" r="3.05" class="o"/><circle cx="1571.39" cy="203.12" r="3.05" class="o"/><circle cx="1574.7" cy="203.12" r="3.05" class="o"/><circle cx="1578.01" cy="203.12" r="3.05" class="o"/><circle cx="1590.81" cy="203.12" r="3.05" class="y"/><circle cx="1593.24" cy="203.12" r="3.05" class="o"/><circle cx="1615.04" cy="203.12" r="3.05" class="o"/><circle cx="1626.35" cy="203.12" r="3.05" class="r"/><circle cx="1632.81" cy="203.12" r="3.05" class="o"/><circle cx="1640.88" cy="203.12" r="3.05" class="o"/><circle cx="1648.84" cy="203.12" r="3.05" class="o"/><circle cx="1652.3" cy="203.12" r="3.05" class="o"/><circle cx="1657.03" cy="203.12" r="3.05" class="r"/><circle cx="1660.26" cy="203.12" r="3.05" class="o"/><circle cx="1665.92" cy="203.12" r="3.05" class="r"/><circle cx="1573.05" cy="216.55" r="3.05" class="y"/><circle cx="1591.62" cy="216.55" r="3.05" class="o"/><circle cx="1602.12" cy="216.55" r="3.05" class="o"/><circle cx="1611.49" cy="216.55" r="3.05" class="o"/><circle cx="1623.12" cy="216.55" r="3.05" class="r"/><circle cx="1632" cy="216.55" r="3.05" class="o"/><circle cx="1655.3" cy="216.55" r="3.05" class="o"/><circle cx="1657.15" cy="216.55" r="3.05" class="o"/><circle cx="1685.18" cy="216.55" r="3.05" class="o"/><circle cx="1686.22" cy="216.55" r="3.05" class="o"/><circle cx="1451.1" cy="229.98" r="3.05" class="o"/><circle cx="1482.48" cy="229.98" r="3.05" class="o"/><circle cx="1483.52" cy="229.98" r="3.05" class="o"/><circle cx="1543.97" cy="229.98" r="3.05" class="o"/><circle cx="1556.57" cy="229.98" r="3.05" class="o"/><circle cx="1574.55" cy="229.98" r="3.05" class="o"/><circle cx="1576.39" cy="229.98" r="3.05" class="o"/><circle cx="1594.37" cy="229.98" r="3.05" class="r"/><circle cx="1618.27" cy="229.98" r="3.05" class="r"/><circle cx="1633.5" cy="229.98" r="3.05" class="o"/><circle cx="1637.77" cy="229.98" r="3.05" class="o"/><circle cx="1660.26" cy="229.98" r="3.05" class="r"/><circle cx="1686.91" cy="229.98" r="3.05" class="r"/><circle cx="1696.6" cy="229.98" r="3.05" class="r"/><circle cx="1461.6" cy="243.41" r="3.05" class="o"/><circle cx="1514.58" cy="243.41" r="3.05" class="y"/><circle cx="1549.63" cy="243.41" r="3.05" class="r"/><circle cx="1608.46" cy="243.41" r="3.05" class="r"/><circle cx="1611.23" cy="243.41" r="3.05" class="r"/><circle cx="1614" cy="243.41" r="3.05" class="r"/><circle cx="1616.77" cy="243.41" r="3.05" class="r"/><circle cx="1638.46" cy="243.41" r="3.05" class="r"/><circle cx="1647.34" cy="243.41" r="3.05" class="r"/><circle cx="1655.1" cy="243.41" r="3.05" class="r"/><circle cx="1662.69" cy="243.41" r="3.05" class="r"/><circle cx="1677.11" cy="243.41" r="3.05" class="r"/><circle cx="1678.95" cy="243.41" r="3.05" class="r"/><circle cx="1704.68" cy="243.41" r="3.05" class="r"/><circle cx="1584.35" cy="256.84" r="3.05" class="r"/><circle cx="1607.77" cy="256.84" r="3.05" class="r"/><circle cx="1616.66" cy="256.84" r="3.05" class="r"/><circle cx="1625.54" cy="256.84" r="3.05" class="r"/><circle cx="1639.15" cy="256.84" r="3.05" class="r"/><circle cx="1643.42" cy="256.84" r="3.05" class="r"/><circle cx="1666.61" cy="256.84" r="3.05" class="r"/><circle cx="1669.15" cy="256.84" r="3.05" class="r"/><circle cx="1671.69" cy="256.84" r="3.05" class="r"/><circle cx="1617.46" cy="270.27" r="3.05" class="r"/><circle cx="1632.81" cy="270.27" r="3.05" class="r"/><circle cx="1644" cy="270.27" r="3.05" class="r"/><circle cx="1646.88" cy="270.27" r="3.05" class="r"/><circle cx="1649.77" cy="270.27" r="3.05" class="r"/><circle cx="1652.65" cy="270.27" r="3.05" class="r"/><circle cx="1655.53" cy="270.27" r="3.05" class="r"/><circle cx="1672.38" cy="270.27" r="3.05" class="r"/><circle cx="1708.72" cy="270.27" r="3.05" class="r"/><circle cx="1594.04" cy="283.7" r="3.05" class="r"/><circle cx="1602.12" cy="283.7" r="3.05" class="r"/><circle cx="1636.73" cy="283.7" r="3.05" class="r"/><circle cx="1640.01" cy="283.7" r="3.05" class="r"/><circle cx="1643.28" cy="283.7" r="3.05" class="r"/><circle cx="1646.56" cy="283.7" r="3.05" class="r"/><circle cx="1649.83" cy="283.7" r="3.05" class="r"/><circle cx="1653.11" cy="283.7" r="3.05" class="r"/><circle cx="1680.45" cy="283.7" r="3.05" class="r"/><circle cx="1616.66" cy="297.13" r="3.05" class="r"/><circle cx="1685.3" cy="297.13" r="3.05" class="r"/><circle cx="1693.37" cy="297.13" r="3.05" class="r"/><circle cx="1628.77" cy="310.56" r="3.05" class="r"/><circle cx="1644" cy="310.56" r="3.05" class="r"/><circle cx="1647.13" cy="310.56" r="3.05" class="r"/><circle cx="1650.27" cy="310.56" r="3.05" class="r"/><circle cx="1653.4" cy="310.56" r="3.05" class="r"/><circle cx="1656.53" cy="310.56" r="3.05" class="r"/><circle cx="1659.67" cy="310.56" r="3.05" class="r"/><circle cx="1662.8" cy="310.56" r="3.05" class="r"/><circle cx="1686.11" cy="310.56" r="3.05" class="r"/><circle cx="1618.27" cy="323.99" r="3.05" class="r"/><circle cx="1649.77" cy="323.99" r="3.05" class="r"/><circle cx="1690.63" cy="323.99" r="3.05" class="r"/><circle cx="1616.98" cy="337.42" r="3.05" class="r"/><circle cx="1631.19" cy="337.42" r="3.05" class="r"/><circle cx="1657.73" cy="337.42" r="3.05" class="r"/><circle cx="1658.76" cy="337.42" r="3.05" class="r"/><circle cx="1667.53" cy="337.42" r="3.05" class="r"/><circle cx="1569.01" cy="350.85" r="3.05" class="r"/><circle cx="1621.18" cy="350.85" r="3.05" class="r"/><circle cx="1631.51" cy="350.85" r="3.05" class="r"/><circle cx="1657.36" cy="350.85" r="3.05" class="r"/><circle cx="1628.28" cy="364.28" r="3.05" class="r"/><circle cx="1644.11" cy="364.28" r="3.05" class="r"/><circle cx="1637.65" cy="377.71" r="3.05" class="r"/><circle cx="1677.22" cy="377.71" r="3.05" class="r"/><circle cx="1703.87" cy="377.71" r="3.05" class="r"/><circle cx="1655.3" cy="391.14" r="3.05" class="r"/><circle cx="1657.15" cy="391.14" r="3.05" class="r"/><circle cx="1671.45" cy="391.14" r="3.05" class="r"/><circle cx="1672.49" cy="391.14" r="3.05" class="r"/><circle cx="1626.35" cy="404.57" r="3.05" class="r"/><circle cx="1636.04" cy="404.57" r="3.05" class="r"/><circle cx="1645.73" cy="404.57" r="3.05" class="r"/><circle cx="1667.53" cy="444.86" r="3.05" class="r"/></g>
<path d="M1376.2,105.5V461.4H1724.5" fill="none" stroke="#222" stroke-width="1.3"/>
<path d="M1380,461.4v1.8M1448.4,461.4v1.8M1516.8,461.4v1.8M1585.2,461.4v1.8M1653.6,461.4v1.8M1722,461.4v1.8M1376.2,149.4h-1.8M1376.2,216.55h-1.8M1376.2,283.7h-1.8M1376.2,350.85h-1.8M1376.2,418h-1.8" stroke="#222" stroke-width="1.1"/>
<g font-family="Liberation Sans, Arial, Helvetica, sans-serif" fill="#1a1a1a" stroke="#1a1a1a" stroke-width="0.45">
<text id="xtA4_0.5" x="1381.5" y="484.8" font-size="17.5" text-anchor="middle">0.5</text>
<text id="xtA4_1.0" x="1450.4" y="484.8" font-size="17.5" text-anchor="middle">1.0</text>
<text id="xtA4_1.5" x="1518.3" y="484.8" font-size="17.5" text-anchor="middle">1.5</text>
<text id="xtA4_2.0" x="1586" y="484.8" font-size="17.5" text-anchor="middle">2.0</text>
<text id="xtA4_2.5" x="1654.1" y="484.8" font-size="17.5" text-anchor="middle">2.5</text>
<text id="xtA4_3.0" x="1722.3" y="484.8" font-size="17.5" text-anchor="middle">3.0</text>
<text id="ytA4_30" x="1367.3" y="156.6" font-size="17.5" text-anchor="end">30</text>
<text id="ytA4_25" x="1367.3" y="223.75" font-size="17.5" text-anchor="end">25</text>
<text id="ytA4_20" x="1367.3" y="290.9" font-size="17.5" text-anchor="end">20</text>
<text id="ytA4_15" x="1367.3" y="358.05" font-size="17.5" text-anchor="end">15</text>
<text id="ytA4_10" x="1367.3" y="425.2" font-size="17.5" text-anchor="end">10</text>
</g>
<g font-family="Liberation Sans, Arial, Helvetica, sans-serif" fill="#1a1a1a" stroke="#1a1a1a" stroke-width="0.15">
<text id="sbA4" x="1403.1" y="401.6" font-size="26" textLength="132.6" lengthAdjust="spacingAndGlyphs" transform="matrix(1 0 0 1.075 0 -30.12)">β = -0.60***</text>
<text id="srA4" x="1403.1" y="433.1" font-size="26" transform="matrix(1 0 0 1.075 0 -32.48)">R<tspan font-size="15.34" dy="-12.74">2</tspan><tspan dy="12.74" dx="-1.6"> = 0.37</tspan></text>
</g>
<g><circle cx="1397.8" cy="688.5" r="3.05" class="t"/><circle cx="1418.32" cy="688.5" r="3.05" class="t"/><circle cx="1429.18" cy="688.5" r="3.05" class="t"/><circle cx="1432.24" cy="688.5" r="3.05" class="t"/><circle cx="1435.3" cy="688.5" r="3.05" class="t"/><circle cx="1438.36" cy="688.5" r="3.05" class="t"/><circle cx="1441.41" cy="688.5" r="3.05" class="t"/><circle cx="1444.47" cy="688.5" r="3.05" class="t"/><circle cx="1447.53" cy="688.5" r="3.05" class="t"/><circle cx="1450.58" cy="688.5" r="3.05" class="t"/><circle cx="1453.64" cy="688.5" r="3.05" class="t"/><circle cx="1459.87" cy="688.5" r="3.05" class="t"/><circle cx="1461.72" cy="688.5" r="3.05" class="t"/><circle cx="1466.45" cy="688.5" r="3.05" class="y"/><circle cx="1474.41" cy="688.5" r="3.05" class="t"/><circle cx="1476.95" cy="688.5" r="3.05" class="t"/><circle cx="1479.48" cy="688.5" r="3.05" class="t"/><circle cx="1490.56" cy="688.5" r="3.05" class="y"/><circle cx="1492.4" cy="688.5" r="3.05" class="y"/><circle cx="1498.75" cy="688.5" r="3.05" class="t"/><circle cx="1505.1" cy="688.5" r="3.05" class="y"/><circle cx="1507.86" cy="688.5" r="3.05" class="y"/><circle cx="1510.63" cy="688.5" r="3.05" class="y"/><circle cx="1513.4" cy="688.5" r="3.05" class="y"/><circle cx="1518.13" cy="688.5" r="3.05" class="t"/><circle cx="1522.86" cy="688.5" r="3.05" class="y"/><circle cx="1525.66" cy="688.5" r="3.05" class="y"/><circle cx="1528.47" cy="688.5" r="3.05" class="y"/><circle cx="1531.27" cy="688.5" r="3.05" class="y"/><circle cx="1534.07" cy="688.5" r="3.05" class="y"/><circle cx="1536.87" cy="688.5" r="3.05" class="y"/><circle cx="1539.67" cy="688.5" r="3.05" class="y"/><circle cx="1542.47" cy="688.5" r="3.05" class="y"/><circle cx="1548.82" cy="688.5" r="3.05" class="o"/><circle cx="1555.16" cy="688.5" r="3.05" class="y"/><circle cx="1558.22" cy="688.5" r="3.05" class="y"/><circle cx="1561.28" cy="688.5" r="3.05" class="y"/><circle cx="1564.34" cy="688.5" r="3.05" class="y"/><circle cx="1567.39" cy="688.5" r="3.05" class="y"/><circle cx="1570.45" cy="688.5" r="3.05" class="y"/><circle cx="1573.51" cy="688.5" r="3.05" class="y"/><circle cx="1576.57" cy="688.5" r="3.05" class="y"/><circle cx="1579.62" cy="688.5" r="3.05" class="y"/><circle cx="1587.47" cy="688.5" r="3.05" class="y"/><circle cx="1590.81" cy="688.5" r="3.05" class="y"/><circle cx="1594.16" cy="688.5" r="3.05" class="y"/><circle cx="1603.62" cy="688.5" r="3.05" class="y"/><circle cx="1606.91" cy="688.5" r="3.05" class="y"/><circle cx="1610.19" cy="688.5" r="3.05" class="y"/><circle cx="1613.48" cy="688.5" r="3.05" class="y"/><circle cx="1616.77" cy="688.5" r="3.05" class="y"/><circle cx="1622.31" cy="688.5" r="3.05" class="o"/><circle cx="1627.96" cy="688.5" r="3.05" class="y"/><circle cx="1634.31" cy="688.5" r="3.05" class="y"/><circle cx="1637.58" cy="688.5" r="3.05" class="y"/><circle cx="1640.86" cy="688.5" r="3.05" class="y"/><circle cx="1644.14" cy="688.5" r="3.05" class="y"/><circle cx="1647.41" cy="688.5" r="3.05" class="y"/><circle cx="1650.69" cy="688.5" r="3.05" class="y"/><circle cx="1655.42" cy="688.5" r="3.05" class="o"/><circle cx="1665.92" cy="688.5" r="3.05" class="o"/><circle cx="1671.57" cy="688.5" r="3.05" class="y"/><circle cx="1422.72" cy="708.65" r="3.05" class="t"/><circle cx="1425.58" cy="708.65" r="3.05" class="t"/><circle cx="1428.43" cy="708.65" r="3.05" class="t"/><circle cx="1431.29" cy="708.65" r="3.05" class="t"/><circle cx="1434.14" cy="708.65" r="3.05" class="t"/><circle cx="1437" cy="708.65" r="3.05" class="t"/><circle cx="1439.86" cy="708.65" r="3.05" class="t"/><circle cx="1442.71" cy="708.65" r="3.05" class="t"/><circle cx="1445.57" cy="708.65" r="3.05" class="t"/><circle cx="1456.64" cy="708.65" r="3.05" class="t"/><circle cx="1459.41" cy="708.65" r="3.05" class="t"/><circle cx="1462.18" cy="708.65" r="3.05" class="t"/><circle cx="1464.95" cy="708.65" r="3.05" class="t"/><circle cx="1473.72" cy="708.65" r="3.05" class="t"/><circle cx="1482.48" cy="708.65" r="3.05" class="y"/><circle cx="1485.83" cy="708.65" r="3.05" class="y"/><circle cx="1489.17" cy="708.65" r="3.05" class="y"/><circle cx="1501.66" cy="708.65" r="3.05" class="t"/><circle cx="1518.02" cy="708.65" r="3.05" class="y"/><circle cx="1521.32" cy="708.65" r="3.05" class="y"/><circle cx="1524.63" cy="708.65" r="3.05" class="y"/><circle cx="1527.94" cy="708.65" r="3.05" class="y"/><circle cx="1543.86" cy="708.65" r="3.05" class="y"/><circle cx="1545.7" cy="708.65" r="3.05" class="y"/><circle cx="1549.63" cy="708.65" r="3.05" class="o"/><circle cx="1563.36" cy="708.65" r="3.05" class="t"/><circle cx="1569.82" cy="708.65" r="3.05" class="y"/><circle cx="1579.51" cy="708.65" r="3.05" class="y"/><circle cx="1587.58" cy="708.65" r="3.05" class="y"/><circle cx="1593.24" cy="708.65" r="3.05" class="o"/><circle cx="1610.19" cy="708.65" r="3.05" class="y"/><circle cx="1615.04" cy="708.65" r="3.05" class="o"/><circle cx="1619.89" cy="708.65" r="3.05" class="y"/><circle cx="1632.81" cy="708.65" r="3.05" class="o"/><circle cx="1637.65" cy="708.65" r="3.05" class="y"/><circle cx="1658.65" cy="708.65" r="3.05" class="y"/><circle cx="1680.45" cy="708.65" r="3.05" class="y"/><circle cx="1426.88" cy="728.8" r="3.05" class="t"/><circle cx="1438.67" cy="728.8" r="3.05" class="t"/><circle cx="1461.49" cy="728.8" r="3.05" class="t"/><circle cx="1464.14" cy="728.8" r="3.05" class="t"/><circle cx="1473.72" cy="728.8" r="3.05" class="t"/><circle cx="1513.29" cy="728.8" r="3.05" class="y"/><circle cx="1522.65" cy="728.8" r="3.05" class="o"/><circle cx="1536.71" cy="728.8" r="3.05" class="y"/><circle cx="1550.43" cy="728.8" r="3.05" class="y"/><circle cx="1572.93" cy="728.8" r="3.05" class="y"/><circle cx="1575.93" cy="728.8" r="3.05" class="y"/><circle cx="1578.93" cy="728.8" r="3.05" class="y"/><circle cx="1581.93" cy="728.8" r="3.05" class="y"/><circle cx="1584.93" cy="728.8" r="3.05" class="y"/><circle cx="1587.93" cy="728.8" r="3.05" class="y"/><circle cx="1590.93" cy="728.8" r="3.05" class="y"/><circle cx="1621.82" cy="728.8" r="3.05" class="o"/><circle cx="1632.48" cy="728.8" r="3.05" class="o"/><circle cx="1640.88" cy="728.8" r="3.05" class="y"/><circle cx="1655.42" cy="728.8" r="3.05" class="o"/><circle cx="1687.72" cy="728.8" r="3.05" class="o"/><circle cx="1434.14" cy="748.95" r="3.05" class="y"/><circle cx="1440.49" cy="748.95" r="3.05" class="t"/><circle cx="1443.37" cy="748.95" r="3.05" class="t"/><circle cx="1446.26" cy="748.95" r="3.05" class="t"/><circle cx="1449.14" cy="748.95" r="3.05" class="t"/><circle cx="1452.03" cy="748.95" r="3.05" class="t"/><circle cx="1514.9" cy="748.95" r="3.05" class="y"/><circle cx="1519.75" cy="748.95" r="3.05" class="t"/><circle cx="1527.82" cy="748.95" r="3.05" class="y"/><circle cx="1543.86" cy="748.95" r="3.05" class="y"/><circle cx="1546.63" cy="748.95" r="3.05" class="y"/><circle cx="1549.4" cy="748.95" r="3.05" class="y"/><circle cx="1552.16" cy="748.95" r="3.05" class="y"/><circle cx="1558.51" cy="748.95" r="3.05" class="o"/><circle cx="1591.62" cy="748.95" r="3.05" class="y"/><circle cx="1618.27" cy="748.95" r="3.05" class="y"/><circle cx="1636.04" cy="748.95" r="3.05" class="o"/><circle cx="1648.96" cy="748.95" r="3.05" class="o"/><circle cx="1658.65" cy="748.95" r="3.05" class="o"/><circle cx="1586.78" cy="769.1" r="3.05" class="o"/><circle cx="1664.3" cy="769.1" r="3.05" class="o"/><circle cx="1654.13" cy="789.25" r="3.05" class="o"/><circle cx="1703.07" cy="789.25" r="3.05" class="y"/><circle cx="1638.94" cy="809.4" r="3.05" class="o"/><circle cx="1545.91" cy="829.55" r="3.05" class="o"/><circle cx="1639.27" cy="829.55" r="3.05" class="o"/><circle cx="1680.94" cy="849.7" r="3.05" class="o"/><circle cx="1651.38" cy="930.3" r="3.05" class="o"/></g>
<path d="M1376.2,631.7V986.4H1724.5" fill="none" stroke="#222" stroke-width="1.3"/>
<path d="M1430.2,986.4v1.8M1501.38,986.4v1.8M1572.55,986.4v1.8M1643.72,986.4v1.8M1714.9,986.4v1.8M1376.2,688.5h-1.8M1376.2,789.25h-1.8M1376.2,890h-1.8" stroke="#222" stroke-width="1.1"/>
<g font-family="Liberation Sans, Arial, Helvetica, sans-serif" fill="#1a1a1a" stroke="#1a1a1a" stroke-width="0.45">
<text id="xtB4_1.0" x="1431.5" y="1009.8" font-size="17.5" text-anchor="middle">1.0</text>
<text id="xtB4_1.5" x="1503.08" y="1009.8" font-size="17.5" text-anchor="middle">1.5</text>
<text id="xtB4_2.0" x="1574.05" y="1009.8" font-size="17.5" text-anchor="middle">2.0</text>
<text id="xtB4_2.5" x="1645.62" y="1009.8" font-size="17.5" text-anchor="middle">2.5</text>
<text id="xtB4_3.0" x="1717" y="1009.8" font-size="17.5" text-anchor="middle">3.0</text>
<text id="ytB4_30" x="1367.3" y="695.7" font-size="17.5" text-anchor="end">30</text>
<text id="ytB4_25" x="1367.3" y="796.45" font-size="17.5" text-anchor="end">25</text>
<text id="ytB4_20" x="1367.3" y="897.2" font-size="17.5" text-anchor="end">20</text>
</g>
<g font-family="Liberation Sans, Arial, Helvetica, sans-serif" fill="#1a1a1a" stroke="#1a1a1a" stroke-width="0.15">
<text id="sbB4" x="1403.1" y="926.3" font-size="26" textLength="132.6" lengthAdjust="spacingAndGlyphs" transform="matrix(1 0 0 1.075 0 -69.47)">β = -0.40***</text>
<text id="srB4" x="1403.1" y="957.8" font-size="26" transform="matrix(1 0 0 1.075 0 -71.83)">R<tspan font-size="15.34" dy="-12.74">2</tspan><tspan dy="12.74" dx="-1.6"> = 0.24</tspan></text>
</g>
<g font-family="Liberation Sans, Arial, Helvetica, sans-serif" fill="#1a1a1a" stroke="#1a1a1a" stroke-width="0.4">
<text id="title4" x="1549.7" y="35.3" font-size="36.8" text-anchor="middle">pT217/T217</text>
</g>
<g font-family="Liberation Sans, Arial, Helvetica, sans-serif" fill="#1a1a1a">
<text id="xlab4" x="1599.35" y="1048.6" font-size="19.8" text-anchor="middle" font-weight="bold">pT217/T217 (log)</text>
</g>
<g><circle cx="1823.15" cy="149.4" r="3.05" class="t"/><circle cx="1844.84" cy="149.4" r="3.05" class="t"/><circle cx="1847.88" cy="149.4" r="3.05" class="t"/><circle cx="1850.92" cy="149.4" r="3.05" class="t"/><circle cx="1853.95" cy="149.4" r="3.05" class="t"/><circle cx="1872.9" cy="149.4" r="3.05" class="t"/><circle cx="1881.99" cy="149.4" r="3.05" class="t"/><circle cx="1886.26" cy="149.4" r="3.05" class="t"/><circle cx="1894.1" cy="149.4" r="3.05" class="t"/><circle cx="1897.56" cy="149.4" r="3.05" class="t"/><circle cx="1903.91" cy="149.4" r="3.05" class="y"/><circle cx="1910.25" cy="149.4" r="3.05" class="t"/><circle cx="1913.6" cy="149.4" r="3.05" class="t"/><circle cx="1916.94" cy="149.4" r="3.05" class="t"/><circle cx="1930.56" cy="149.4" r="3.05" class="t"/><circle cx="1937.71" cy="149.4" r="3.05" class="t"/><circle cx="1941" cy="149.4" r="3.05" class="t"/><circle cx="1944.29" cy="149.4" r="3.05" class="t"/><circle cx="1947.57" cy="149.4" r="3.05" class="t"/><circle cx="1950.86" cy="149.4" r="3.05" class="t"/><circle cx="1958.82" cy="149.4" r="3.05" class="t"/><circle cx="1963.67" cy="149.4" r="3.05" class="y"/><circle cx="1970.13" cy="149.4" r="3.05" class="o"/><circle cx="1976.59" cy="149.4" r="3.05" class="y"/><circle cx="1983.74" cy="149.4" r="3.05" class="t"/><circle cx="1988.01" cy="149.4" r="3.05" class="t"/><circle cx="1995.16" cy="149.4" r="3.05" class="y"/><circle cx="2002.43" cy="149.4" r="3.05" class="t"/><circle cx="2016.97" cy="149.4" r="3.05" class="y"/><circle cx="2021.81" cy="149.4" r="3.05" class="o"/><circle cx="2029.77" cy="149.4" r="3.05" class="y"/><circle cx="2032.83" cy="149.4" r="3.05" class="y"/><circle cx="2035.89" cy="149.4" r="3.05" class="y"/><circle cx="2038.95" cy="149.4" r="3.05" class="y"/><circle cx="2042" cy="149.4" r="3.05" class="y"/><circle cx="2045.06" cy="149.4" r="3.05" class="y"/><circle cx="2048.12" cy="149.4" r="3.05" class="y"/><circle cx="2051.17" cy="149.4" r="3.05" class="y"/><circle cx="2054.23" cy="149.4" r="3.05" class="y"/><circle cx="2058.96" cy="149.4" r="3.05" class="y"/><circle cx="2070.27" cy="149.4" r="3.05" class="y"/><circle cx="2076.73" cy="149.4" r="3.05" class="o"/><circle cx="1875.64" cy="162.83" r="3.05" class="t"/><circle cx="1886.14" cy="162.83" r="3.05" class="y"/><circle cx="1890.18" cy="162.83" r="3.05" class="t"/><circle cx="1895.83" cy="162.83" r="3.05" class="y"/><circle cx="1902.18" cy="162.83" r="3.05" class="t"/><circle cx="1904.83" cy="162.83" r="3.05" class="t"/><circle cx="1911.98" cy="162.83" r="3.05" class="o"/><circle cx="1916.83" cy="162.83" r="3.05" class="t"/><circle cx="1926.52" cy="162.83" r="3.05" class="t"/><circle cx="1931.37" cy="162.83" r="3.05" class="y"/><circle cx="1937.02" cy="162.83" r="3.05" class="t"/><circle cx="1945.9" cy="162.83" r="3.05" class="o"/><circle cx="1953.05" cy="162.83" r="3.05" class="t"/><circle cx="1954.09" cy="162.83" r="3.05" class="t"/><circle cx="1965.28" cy="162.83" r="3.05" class="o"/><circle cx="1970.13" cy="162.83" r="3.05" class="y"/><circle cx="1991.01" cy="162.83" r="3.05" class="y"/><circle cx="1993.55" cy="162.83" r="3.05" class="y"/><circle cx="1996.09" cy="162.83" r="3.05" class="y"/><circle cx="2013.41" cy="162.83" r="3.05" class="t"/><circle cx="2020.2" cy="162.83" r="3.05" class="y"/><circle cx="2029.89" cy="162.83" r="3.05" class="o"/><circle cx="2036.35" cy="162.83" r="3.05" class="r"/><circle cx="2041.19" cy="162.83" r="3.05" class="y"/><circle cx="2050.89" cy="162.83" r="3.05" class="o"/><circle cx="2060.46" cy="162.83" r="3.05" class="y"/><circle cx="2063.23" cy="162.83" r="3.05" class="y"/><circle cx="2066" cy="162.83" r="3.05" class="y"/><circle cx="2068.77" cy="162.83" r="3.05" class="y"/><circle cx="2075.92" cy="162.83" r="3.05" class="o"/><circle cx="2088.03" cy="162.83" r="3.05" class="o"/><circle cx="2134.87" cy="162.83" r="3.05" class="y"/><circle cx="1841.24" cy="176.26" r="3.05" class="t"/><circle cx="1869.07" cy="176.26" r="3.05" class="t"/><circle cx="1872.82" cy="176.26" r="3.05" class="t"/><circle cx="1876.57" cy="176.26" r="3.05" class="t"/><circle cx="1887.76" cy="176.26" r="3.05" class="t"/><circle cx="1900.56" cy="176.26" r="3.05" class="t"/><circle cx="1903.91" cy="176.26" r="3.05" class="t"/><circle cx="1907.25" cy="176.26" r="3.05" class="t"/><circle cx="1935.4" cy="176.26" r="3.05" class="t"/><circle cx="1939.44" cy="176.26" r="3.05" class="y"/><circle cx="1952.36" cy="176.26" r="3.05" class="t"/><circle cx="1961.94" cy="176.26" r="3.05" class="y"/><circle cx="1963.78" cy="176.26" r="3.05" class="y"/><circle cx="1983.86" cy="176.26" r="3.05" class="t"/><circle cx="1989.51" cy="176.26" r="3.05" class="o"/><circle cx="1994.36" cy="176.26" r="3.05" class="y"/><circle cx="1997.59" cy="176.26" r="3.05" class="o"/><circle cx="2002.43" cy="176.26" r="3.05" class="y"/><circle cx="2010.39" cy="176.26" r="3.05" class="o"/><circle cx="2013.74" cy="176.26" r="3.05" class="o"/><circle cx="2017.08" cy="176.26" r="3.05" class="o"/><circle cx="2026.54" cy="176.26" r="3.05" class="o"/><circle cx="2030" cy="176.26" r="3.05" class="o"/><circle cx="2041.89" cy="176.26" r="3.05" class="o"/><circle cx="2046.16" cy="176.26" r="3.05" class="o"/><circle cx="2052.5" cy="176.26" r="3.05" class="o"/><circle cx="2058.85" cy="176.26" r="3.05" class="y"/><circle cx="2061.38" cy="176.26" r="3.05" class="y"/><circle cx="2063.92" cy="176.26" r="3.05" class="y"/><circle cx="2075.11" cy="176.26" r="3.05" class="y"/><circle cx="2089.65" cy="176.26" r="3.05" class="o"/><circle cx="1859.01" cy="189.69" r="3.05" class="t"/><circle cx="1915.91" cy="189.69" r="3.05" class="t"/><circle cx="1918.94" cy="189.69" r="3.05" class="t"/><circle cx="1921.98" cy="189.69" r="3.05" class="t"/><circle cx="1925.02" cy="189.69" r="3.05" class="t"/><circle cx="1936.1" cy="189.69" r="3.05" class="t"/><circle cx="1939.44" cy="189.69" r="3.05" class="t"/><circle cx="1942.79" cy="189.69" r="3.05" class="t"/><circle cx="1954.78" cy="189.69" r="3.05" class="y"/><circle cx="1968.4" cy="189.69" r="3.05" class="o"/><circle cx="1970.24" cy="189.69" r="3.05" class="o"/><circle cx="1976.59" cy="189.69" r="3.05" class="y"/><circle cx="1984.66" cy="189.69" r="3.05" class="r"/><circle cx="1994.24" cy="189.69" r="3.05" class="o"/><circle cx="1997.12" cy="189.69" r="3.05" class="o"/><circle cx="2000.01" cy="189.69" r="3.05" class="o"/><circle cx="2002.89" cy="189.69" r="3.05" class="o"/><circle cx="2005.78" cy="189.69" r="3.05" class="o"/><circle cx="2018.58" cy="189.69" r="3.05" class="y"/><circle cx="2025.85" cy="189.69" r="3.05" class="o"/><circle cx="2034.73" cy="189.69" r="3.05" class="y"/><circle cx="2049.27" cy="189.69" r="3.05" class="o"/><circle cx="2054.12" cy="189.69" r="3.05" class="y"/><circle cx="2063.81" cy="189.69" r="3.05" class="o"/><circle cx="2070.27" cy="189.69" r="3.05" class="r"/><circle cx="2085.61" cy="189.69" r="3.05" class="o"/><circle cx="2104.19" cy="189.69" r="3.05" class="o"/><circle cx="2107.42" cy="189.69" r="3.05" class="r"/><circle cx="2127.6" cy="189.69" r="3.05" class="o"/><circle cx="1933.79" cy="203.12" r="3.05" class="t"/><circle cx="1985.47" cy="203.12" r="3.05" class="o"/><circle cx="2000.01" cy="203.12" r="3.05" class="o"/><circle cx="2004.05" cy="203.12" r="3.05" class="t"/><circle cx="2012.12" cy="203.12" r="3.05" class="o"/><circle cx="2024.24" cy="203.12" r="3.05" class="y"/><circle cx="2036.35" cy="203.12" r="3.05" class="r"/><circle cx="2042.81" cy="203.12" r="3.05" class="o"/><circle cx="2050.89" cy="203.12" r="3.05" class="r"/><circle cx="2057.23" cy="203.12" r="3.05" class="o"/><circle cx="2060" cy="203.12" r="3.05" class="o"/><circle cx="2062.77" cy="203.12" r="3.05" class="o"/><circle cx="2065.54" cy="203.12" r="3.05" class="o"/><circle cx="2081.57" cy="203.12" r="3.05" class="r"/><circle cx="2090.94" cy="203.12" r="3.05" class="o"/><circle cx="2009.7" cy="216.55" r="3.05" class="o"/><circle cx="2031.5" cy="216.55" r="3.05" class="o"/><circle cx="2043.62" cy="216.55" r="3.05" class="o"/><circle cx="2058.96" cy="216.55" r="3.05" class="o"/><circle cx="2069.94" cy="216.55" r="3.05" class="r"/><circle cx="2083.07" cy="216.55" r="3.05" class="o"/><circle cx="2086.53" cy="216.55" r="3.05" class="o"/><circle cx="2100.15" cy="216.55" r="3.05" class="o"/><circle cx="1917.64" cy="229.98" r="3.05" class="o"/><circle cx="1938.15" cy="229.98" r="3.05" class="o"/><circle cx="1948.81" cy="229.98" r="3.05" class="o"/><circle cx="1970.45" cy="229.98" r="3.05" class="o"/><circle cx="1995.16" cy="229.98" r="3.05" class="o"/><circle cx="2005.34" cy="229.98" r="3.05" class="r"/><circle cx="2028.97" cy="229.98" r="3.05" class="o"/><circle cx="2031.62" cy="229.98" r="3.05" class="o"/><circle cx="2041.19" cy="229.98" r="3.05" class="o"/><circle cx="2056.54" cy="229.98" r="3.05" class="r"/><circle cx="2079.15" cy="229.98" r="3.05" class="r"/><circle cx="2093.57" cy="229.98" r="3.05" class="r"/><circle cx="2097.84" cy="229.98" r="3.05" class="r"/><circle cx="2107.74" cy="229.98" r="3.05" class="o"/><circle cx="1925.71" cy="243.41" r="3.05" class="o"/><circle cx="1938.63" cy="243.41" r="3.05" class="o"/><circle cx="1979.5" cy="243.41" r="3.05" class="y"/><circle cx="2017.78" cy="243.41" r="3.05" class="r"/><circle cx="2033.12" cy="243.41" r="3.05" class="r"/><circle cx="2043.62" cy="243.41" r="3.05" class="r"/><circle cx="2087.11" cy="243.41" r="3.05" class="r"/><circle cx="2089.88" cy="243.41" r="3.05" class="r"/><circle cx="2092.65" cy="243.41" r="3.05" class="r"/><circle cx="2095.42" cy="243.41" r="3.05" class="r"/><circle cx="2134.55" cy="243.41" r="3.05" class="r"/><circle cx="1976.47" cy="256.84" r="3.05" class="r"/><circle cx="1980.74" cy="256.84" r="3.05" class="r"/><circle cx="2002.75" cy="256.84" r="3.05" class="r"/><circle cx="2034.73" cy="256.84" r="3.05" class="r"/><circle cx="2046.73" cy="256.84" r="3.05" class="r"/><circle cx="2050.08" cy="256.84" r="3.05" class="r"/><circle cx="2053.42" cy="256.84" r="3.05" class="r"/><circle cx="2073.5" cy="256.84" r="3.05" class="r"/><circle cx="2115.81" cy="256.84" r="3.05" class="r"/><circle cx="2053.19" cy="270.27" r="3.05" class="r"/><circle cx="2055.04" cy="270.27" r="3.05" class="r"/><circle cx="2078.23" cy="270.27" r="3.05" class="r"/><circle cx="2081.69" cy="270.27" r="3.05" class="r"/><circle cx="2111.94" cy="270.27" r="3.05" class="r"/><circle cx="2133.26" cy="270.27" r="3.05" class="r"/><circle cx="1959.63" cy="283.7" r="3.05" class="r"/><circle cx="2039.58" cy="283.7" r="3.05" class="r"/><circle cx="2053.19" cy="283.7" r="3.05" class="r"/><circle cx="2056.65" cy="283.7" r="3.05" class="r"/><circle cx="2091.26" cy="283.7" r="3.05" class="r"/><circle cx="2116.78" cy="283.7" r="3.05" class="r"/><circle cx="2126.47" cy="283.7" r="3.05" class="r"/><circle cx="2066.23" cy="297.13" r="3.05" class="r"/><circle cx="2106.61" cy="297.13" r="3.05" class="r"/><circle cx="2140.04" cy="297.13" r="3.05" class="r"/><circle cx="1964.96" cy="310.56" r="3.05" class="r"/><circle cx="2014.22" cy="310.56" r="3.05" class="r"/><circle cx="2037.04" cy="310.56" r="3.05" class="r"/><circle cx="2038.08" cy="310.56" r="3.05" class="r"/><circle cx="2052.39" cy="310.56" r="3.05" class="r"/><circle cx="2055.07" cy="310.56" r="3.05" class="r"/><circle cx="2057.75" cy="310.56" r="3.05" class="r"/><circle cx="2060.43" cy="310.56" r="3.05" class="r"/><circle cx="2063.11" cy="310.56" r="3.05" class="r"/><circle cx="2073.5" cy="310.56" r="3.05" class="r"/><circle cx="2104.99" cy="310.56" r="3.05" class="r"/><circle cx="2021.01" cy="323.99" r="3.05" class="r"/><circle cx="2049.27" cy="323.99" r="3.05" class="r"/><circle cx="2064.61" cy="323.99" r="3.05" class="r"/><circle cx="2088.03" cy="323.99" r="3.05" class="r"/><circle cx="2037.16" cy="337.42" r="3.05" class="r"/><circle cx="2059.28" cy="337.42" r="3.05" class="r"/><circle cx="2073.17" cy="337.42" r="3.05" class="r"/><circle cx="1972.55" cy="350.85" r="3.05" class="r"/><circle cx="2039.18" cy="350.85" r="3.05" class="r"/><circle cx="2103.38" cy="350.85" r="3.05" class="r"/><circle cx="2046.36" cy="364.28" r="3.05" class="r"/><circle cx="2067.84" cy="364.28" r="3.05" class="r"/><circle cx="2026.98" cy="377.71" r="3.05" class="r"/><circle cx="2064.29" cy="377.71" r="3.05" class="r"/><circle cx="2134.87" cy="377.71" r="3.05" class="r"/><circle cx="2063.48" cy="391.14" r="3.05" class="r"/><circle cx="2075.92" cy="391.14" r="3.05" class="r"/><circle cx="2098.53" cy="391.14" r="3.05" class="r"/><circle cx="2052.39" cy="404.57" r="3.05" class="r"/><circle cx="2053.42" cy="404.57" r="3.05" class="r"/><circle cx="2064.94" cy="404.57" r="3.05" class="r"/><circle cx="2056.54" cy="444.86" r="3.05" class="r"/></g>
<path d="M1807.5,105.5V461.4H2156.3" fill="none" stroke="#222" stroke-width="1.3"/>
<path d="M1862.6,461.4v1.8M1935.5,461.4v1.8M2008.4,461.4v1.8M2081.3,461.4v1.8M2154.2,461.4v1.8M1807.5,149.4h-1.8M1807.5,216.55h-1.8M1807.5,283.7h-1.8M1807.5,350.85h-1.8M1807.5,418h-1.8" stroke="#222" stroke-width="1.1"/>
<g font-family="Liberation Sans, Arial, Helvetica, sans-serif" fill="#1a1a1a" stroke="#1a1a1a" stroke-width="0.45">
<text id="xtA5_1.5" x="1864.3" y="484.8" font-size="17.5" text-anchor="middle">1.5</text>
<text id="xtA5_2.0" x="1936.8" y="484.8" font-size="17.5" text-anchor="middle">2.0</text>
<text id="xtA5_2.5" x="2009.9" y="484.8" font-size="17.5" text-anchor="middle">2.5</text>
<text id="xtA5_3.0" x="2083" y="484.8" font-size="17.5" text-anchor="middle">3.0</text>
<text id="xtA5_3.5" x="2155.7" y="484.8" font-size="17.5" text-anchor="middle">3.5</text>
<text id="ytA5_30" x="1798.6" y="156.6" font-size="17.5" text-anchor="end">30</text>
<text id="ytA5_25" x="1798.6" y="223.75" font-size="17.5" text-anchor="end">25</text>
<text id="ytA5_20" x="1798.6" y="290.9" font-size="17.5" text-anchor="end">20</text>
<text id="ytA5_15" x="1798.6" y="358.05" font-size="17.5" text-anchor="end">15</text>
<text id="ytA5_10" x="1798.6" y="425.2" font-size="17.5" text-anchor="end">10</text>
</g>
<g font-family="Liberation Sans, Arial, Helvetica, sans-serif" fill="#1a1a1a" stroke="#1a1a1a" stroke-width="0.15">
<text id="sbA5" x="1833.1" y="401.6" font-size="26" textLength="132.6" lengthAdjust="spacingAndGlyphs" transform="matrix(1 0 0 1.075 0 -30.12)">β = -0.47***</text>
<text id="srA5" x="1833.1" y="433.1" font-size="26" transform="matrix(1 0 0 1.075 0 -32.48)">R<tspan font-size="15.34" dy="-12.74">2</tspan><tspan dy="12.74" dx="-1.6"> = 0.23</tspan></text>
</g>
<g><circle cx="1845.76" cy="688.5" r="3.05" class="t"/><circle cx="1876.45" cy="688.5" r="3.05" class="t"/><circle cx="1884.53" cy="688.5" r="3.05" class="y"/><circle cx="1900.56" cy="688.5" r="3.05" class="t"/><circle cx="1903.85" cy="688.5" r="3.05" class="t"/><circle cx="1907.14" cy="688.5" r="3.05" class="t"/><circle cx="1910.43" cy="688.5" r="3.05" class="t"/><circle cx="1913.71" cy="688.5" r="3.05" class="t"/><circle cx="1932.98" cy="688.5" r="3.05" class="t"/><circle cx="1942.56" cy="688.5" r="3.05" class="t"/><circle cx="1945.56" cy="688.5" r="3.05" class="t"/><circle cx="1948.56" cy="688.5" r="3.05" class="t"/><circle cx="1951.55" cy="688.5" r="3.05" class="t"/><circle cx="1954.55" cy="688.5" r="3.05" class="t"/><circle cx="1957.55" cy="688.5" r="3.05" class="t"/><circle cx="1960.55" cy="688.5" r="3.05" class="t"/><circle cx="1966.9" cy="688.5" r="3.05" class="y"/><circle cx="1974.86" cy="688.5" r="3.05" class="t"/><circle cx="1977.63" cy="688.5" r="3.05" class="t"/><circle cx="1980.4" cy="688.5" r="3.05" class="t"/><circle cx="1983.16" cy="688.5" r="3.05" class="t"/><circle cx="1991.01" cy="688.5" r="3.05" class="y"/><circle cx="1994.3" cy="688.5" r="3.05" class="y"/><circle cx="1997.59" cy="688.5" r="3.05" class="y"/><circle cx="2000.87" cy="688.5" r="3.05" class="y"/><circle cx="2004.16" cy="688.5" r="3.05" class="y"/><circle cx="2012.12" cy="688.5" r="3.05" class="t"/><circle cx="2018.58" cy="688.5" r="3.05" class="y"/><circle cx="2023.43" cy="688.5" r="3.05" class="t"/><circle cx="2031.39" cy="688.5" r="3.05" class="y"/><circle cx="2034.85" cy="688.5" r="3.05" class="y"/><circle cx="2038.77" cy="688.5" r="3.05" class="t"/><circle cx="2044.31" cy="688.5" r="3.05" class="y"/><circle cx="2047.08" cy="688.5" r="3.05" class="y"/><circle cx="2049.85" cy="688.5" r="3.05" class="y"/><circle cx="2052.62" cy="688.5" r="3.05" class="y"/><circle cx="2058.96" cy="688.5" r="3.05" class="o"/><circle cx="2067.84" cy="688.5" r="3.05" class="t"/><circle cx="2071.88" cy="688.5" r="3.05" class="y"/><circle cx="2087.92" cy="688.5" r="3.05" class="y"/><circle cx="2090.87" cy="688.5" r="3.05" class="y"/><circle cx="2093.83" cy="688.5" r="3.05" class="y"/><circle cx="2096.78" cy="688.5" r="3.05" class="y"/><circle cx="2099.73" cy="688.5" r="3.05" class="y"/><circle cx="2102.69" cy="688.5" r="3.05" class="y"/><circle cx="2118.61" cy="688.5" r="3.05" class="y"/><circle cx="2121.49" cy="688.5" r="3.05" class="y"/><circle cx="2124.37" cy="688.5" r="3.05" class="y"/><circle cx="2127.26" cy="688.5" r="3.05" class="y"/><circle cx="2130.14" cy="688.5" r="3.05" class="y"/><circle cx="1829.61" cy="708.65" r="3.05" class="t"/><circle cx="1875.64" cy="708.65" r="3.05" class="y"/><circle cx="1928.94" cy="708.65" r="3.05" class="t"/><circle cx="1947.52" cy="708.65" r="3.05" class="y"/><circle cx="1956.28" cy="708.65" r="3.05" class="t"/><circle cx="1959.05" cy="708.65" r="3.05" class="t"/><circle cx="1961.82" cy="708.65" r="3.05" class="t"/><circle cx="1964.59" cy="708.65" r="3.05" class="t"/><circle cx="1974.17" cy="708.65" r="3.05" class="o"/><circle cx="1979.01" cy="708.65" r="3.05" class="t"/><circle cx="1989.51" cy="708.65" r="3.05" class="y"/><circle cx="1995.86" cy="708.65" r="3.05" class="t"/><circle cx="1998.8" cy="708.65" r="3.05" class="t"/><circle cx="2001.74" cy="708.65" r="3.05" class="t"/><circle cx="2020.08" cy="708.65" r="3.05" class="y"/><circle cx="2021.93" cy="708.65" r="3.05" class="y"/><circle cx="2029.08" cy="708.65" r="3.05" class="o"/><circle cx="2040.39" cy="708.65" r="3.05" class="o"/><circle cx="2049.16" cy="708.65" r="3.05" class="y"/><circle cx="2052.5" cy="708.65" r="3.05" class="y"/><circle cx="2055.85" cy="708.65" r="3.05" class="y"/><circle cx="2061.38" cy="708.65" r="3.05" class="o"/><circle cx="2068.54" cy="708.65" r="3.05" class="y"/><circle cx="2071.84" cy="708.65" r="3.05" class="y"/><circle cx="2075.15" cy="708.65" r="3.05" class="y"/><circle cx="2078.46" cy="708.65" r="3.05" class="y"/><circle cx="1923.29" cy="728.8" r="3.05" class="o"/><circle cx="1954.78" cy="728.8" r="3.05" class="y"/><circle cx="1978.2" cy="728.8" r="3.05" class="y"/><circle cx="1980.63" cy="728.8" r="3.05" class="t"/><circle cx="1992.74" cy="728.8" r="3.05" class="t"/><circle cx="2015.24" cy="728.8" r="3.05" class="y"/><circle cx="2018.01" cy="728.8" r="3.05" class="y"/><circle cx="2020.77" cy="728.8" r="3.05" class="y"/><circle cx="2023.54" cy="728.8" r="3.05" class="y"/><circle cx="2052.5" cy="728.8" r="3.05" class="o"/><circle cx="2062.19" cy="728.8" r="3.05" class="o"/><circle cx="2074.31" cy="728.8" r="3.05" class="o"/><circle cx="2098.53" cy="728.8" r="3.05" class="y"/><circle cx="2112.26" cy="728.8" r="3.05" class="y"/><circle cx="1965.28" cy="748.95" r="3.05" class="t"/><circle cx="2000.82" cy="748.95" r="3.05" class="y"/><circle cx="2006.47" cy="748.95" r="3.05" class="o"/><circle cx="2015.35" cy="748.95" r="3.05" class="t"/><circle cx="2020.2" cy="748.95" r="3.05" class="y"/><circle cx="2029.08" cy="748.95" r="3.05" class="y"/><circle cx="2042" cy="748.95" r="3.05" class="o"/><circle cx="2054" cy="748.95" r="3.05" class="o"/><circle cx="2055.85" cy="748.95" r="3.05" class="o"/><circle cx="2063.81" cy="748.95" r="3.05" class="o"/><circle cx="2081.57" cy="748.95" r="3.05" class="y"/><circle cx="2038.77" cy="769.1" r="3.05" class="o"/><circle cx="2078.02" cy="769.1" r="3.05" class="o"/><circle cx="2059.77" cy="789.25" r="3.05" class="o"/><circle cx="2134.07" cy="789.25" r="3.05" class="y"/><circle cx="2072.69" cy="809.4" r="3.05" class="o"/><circle cx="2031.18" cy="829.55" r="3.05" class="o"/><circle cx="2045.72" cy="829.55" r="3.05" class="o"/><circle cx="2060.58" cy="849.7" r="3.05" class="o"/><circle cx="2060.25" cy="930.3" r="3.05" class="o"/></g>
<path d="M1807.5,631.7V986.4H2156.3" fill="none" stroke="#222" stroke-width="1.3"/>
<path d="M1836.2,986.4v1.8M1904,986.4v1.8M1971.8,986.4v1.8M2039.6,986.4v1.8M2107.4,986.4v1.8M1807.5,688.5h-1.8M1807.5,789.25h-1.8M1807.5,890h-1.8" stroke="#222" stroke-width="1.1"/>
<g font-family="Liberation Sans, Arial, Helvetica, sans-serif" fill="#1a1a1a" stroke="#1a1a1a" stroke-width="0.45">
<text id="xtB5_0" x="1836.2" y="1009.8" font-size="17.5" text-anchor="middle">0</text>
<text id="xtB5_1" x="1904.5" y="1009.8" font-size="17.5" text-anchor="middle">1</text>
<text id="xtB5_2" x="1971.8" y="1009.8" font-size="17.5" text-anchor="middle">2</text>
<text id="xtB5_3" x="2040.3" y="1009.8" font-size="17.5" text-anchor="middle">3</text>
<text id="xtB5_4" x="2108.7" y="1009.8" font-size="17.5" text-anchor="middle">4</text>
<text id="ytB5_30" x="1798.6" y="695.7" font-size="17.5" text-anchor="end">30</text>
<text id="ytB5_25" x="1798.6" y="796.45" font-size="17.5" text-anchor="end">25</text>
<text id="ytB5_20" x="1798.6" y="897.2" font-size="17.5" text-anchor="end">20</text>
</g>
<g font-family="Liberation Sans, Arial, Helvetica, sans-serif" fill="#1a1a1a" stroke="#1a1a1a" stroke-width="0.15">
<text id="sbB5" x="1833.1" y="926.3" font-size="26" textLength="132.6" lengthAdjust="spacingAndGlyphs" transform="matrix(1 0 0 1.075 0 -69.47)">β = -0.26***</text>
<text id="srB5" x="1833.1" y="957.8" font-size="26" transform="matrix(1 0 0 1.075 0 -71.83)">R<tspan font-size="15.34" dy="-12.74">2</tspan><tspan dy="12.74" dx="-1.6"> = 0.16</tspan></text>
</g>
<g font-family="Liberation Sans, Arial, Helvetica, sans-serif" fill="#1a1a1a" stroke="#1a1a1a" stroke-width="0.4">
<text id="title5" x="1978.8" y="35.3" font-size="36.8" text-anchor="middle">pT231/T231</text>
</g>
<g font-family="Liberation Sans, Arial, Helvetica, sans-serif" fill="#1a1a1a">
<text id="xlab5" x="1981.4" y="1048.6" font-size="19.8" text-anchor="middle" font-weight="bold">pT231/T231 (log)</text>
</g>
<g font-family="Liberation Sans, Arial, Helvetica, sans-serif" fill="#1a1a1a" font-weight="bold">
<text id="mmseA" x="35.9" y="284.35" font-size="19.5" text-anchor="middle" textLength="61" lengthAdjust="spacingAndGlyphs" transform="rotate(-90 35.9 284.35)">MMSE</text>
<text id="mmseB" x="35.9" y="809.9" font-size="19.5" text-anchor="middle" textLength="61" lengthAdjust="spacingAndGlyphs" transform="rotate(-90 35.9 809.9)">MMSE</text>
</g>
<g font-family="Liberation Sans, Arial, Helvetica, sans-serif" fill="#111" stroke="#111" stroke-width="0.5">
<text id="letA" x="-1" y="58.8" font-size="30.5" textLength="27.6" lengthAdjust="spacingAndGlyphs">A)</text>
<text id="letB" x="-1" y="584.9" font-size="30.5" textLength="25.4" lengthAdjust="spacingAndGlyphs">B)</text>
</g>
<g font-family="Liberation Sans, Arial, Helvetica, sans-serif" fill="#1a1a1a" stroke="#1a1a1a" stroke-width="0.3">
<circle cx="627.3" cy="1141.9" r="9.8" fill="#7fcfc4"/>
<text id="leg0" x="658.3" y="1153.1" font-size="32.1">CU-</text>
<circle cx="820.6" cy="1141.9" r="9.8" fill="#f3f3a8"/>
<text id="leg1" x="851.2" y="1153.1" font-size="32.1">CU+</text>
<circle cx="1033.3" cy="1141.9" r="9.8" fill="#f8a860"/>
<text id="leg2" x="1063.3" y="1153.1" font-size="32.1" textLength="263" lengthAdjust="spacingAndGlyphs">MCI+/very mild AD</text>
<circle cx="1436.0" cy="1141.9" r="9.8" fill="#f07a72"/>
<text id="leg3" x="1458.3" y="1153.1" font-size="32.1">AD+</text>
</g>
</svg></body></html>
